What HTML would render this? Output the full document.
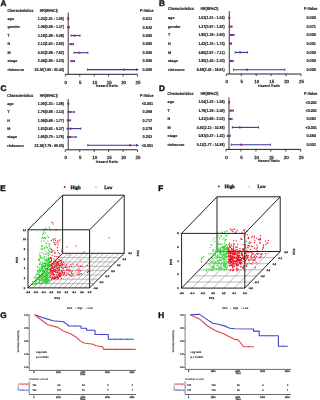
<!DOCTYPE html>
<html><head><meta charset="utf-8"><style>
html,body{margin:0;padding:0;background:#fff;width:318px;height:400px;overflow:hidden}
svg{display:block;font-family:"Liberation Sans", sans-serif;will-change:transform;text-rendering:geometricPrecision}
</style></head><body>
<svg width="318" height="400" viewBox="0 0 318 400">
<rect width="318" height="400" fill="#fff"/>
<text x="0.60" y="5.80" font-size="8.2" text-anchor="start" font-weight="bold" fill="#111"  stroke="#111" stroke-width="0.400">A</text>
<text x="7.50" y="11.60" font-size="4.3" text-anchor="start" font-weight="bold" fill="#111" textLength="26" lengthAdjust="spacingAndGlyphs"  stroke="#111" stroke-width="0.120">Characteristics</text>
<text x="39.80" y="11.60" font-size="4.3" text-anchor="start" font-weight="bold" fill="#111" textLength="18" lengthAdjust="spacingAndGlyphs"  stroke="#111" stroke-width="0.120">HR(95%CI)</text>
<text x="140.10" y="11.60" font-size="4.3" text-anchor="start" font-weight="bold" fill="#111" textLength="13.5" lengthAdjust="spacingAndGlyphs"  stroke="#111" stroke-width="0.120">P-Value</text>
<line x1="68.19" y1="12.50" x2="68.19" y2="74.30" stroke="#222" stroke-width="0.9"/>
<line x1="65.30" y1="74.30" x2="137.55" y2="74.30" stroke="#222" stroke-width="1.0"/>
<line x1="65.30" y1="74.30" x2="65.30" y2="76.50" stroke="#222" stroke-width="0.8"/>
<text x="65.80" y="83.70" font-size="4.4" text-anchor="middle" font-weight="normal" fill="#222"  stroke="#222" stroke-width="0.250">0</text>
<line x1="79.75" y1="74.30" x2="79.75" y2="76.50" stroke="#222" stroke-width="0.8"/>
<text x="80.25" y="83.70" font-size="4.4" text-anchor="middle" font-weight="normal" fill="#222"  stroke="#222" stroke-width="0.250">5</text>
<line x1="94.20" y1="74.30" x2="94.20" y2="76.50" stroke="#222" stroke-width="0.8"/>
<text x="94.70" y="83.70" font-size="4.4" text-anchor="middle" font-weight="normal" fill="#222"  stroke="#222" stroke-width="0.250">10</text>
<line x1="108.65" y1="74.30" x2="108.65" y2="76.50" stroke="#222" stroke-width="0.8"/>
<text x="109.15" y="83.70" font-size="4.4" text-anchor="middle" font-weight="normal" fill="#222"  stroke="#222" stroke-width="0.250">15</text>
<line x1="123.10" y1="74.30" x2="123.10" y2="76.50" stroke="#222" stroke-width="0.8"/>
<text x="123.60" y="83.70" font-size="4.4" text-anchor="middle" font-weight="normal" fill="#222"  stroke="#222" stroke-width="0.250">20</text>
<line x1="137.55" y1="74.30" x2="137.55" y2="76.50" stroke="#222" stroke-width="0.8"/>
<text x="138.05" y="83.70" font-size="4.4" text-anchor="middle" font-weight="normal" fill="#222"  stroke="#222" stroke-width="0.250">25</text>
<text x="106.83" y="87.10" font-size="3.6" text-anchor="middle" font-weight="bold" fill="#222" textLength="22" lengthAdjust="spacingAndGlyphs"  stroke="#222" stroke-width="0.100">Hazard Ratio</text>
<text x="7.50" y="19.80" font-size="3.75" text-anchor="start" font-weight="bold" fill="#111"  stroke="#111" stroke-width="0.120">age</text>
<text x="64.00" y="19.80" font-size="4.3" text-anchor="end" font-weight="bold" fill="#111" textLength="26.2" lengthAdjust="spacingAndGlyphs"  stroke="#111" stroke-width="0.120">1.03(1.01 - 1.05)</text>
<text x="147.40" y="19.90" font-size="4.3" text-anchor="middle" font-weight="bold" fill="#111" textLength="9.6" lengthAdjust="spacingAndGlyphs"  stroke="#111" stroke-width="0.120">0.011</text>
<line x1="68.22" y1="18.60" x2="68.33" y2="18.60" stroke="#3434a6" stroke-width="1.1"/>
<line x1="68.33" y1="17.50" x2="68.33" y2="19.70" stroke="#3434a6" stroke-width="0.9"/>
<line x1="68.22" y1="17.50" x2="68.22" y2="19.70" stroke="#3434a6" stroke-width="0.9"/>
<rect x="67.28" y="17.60" width="2" height="2" fill="#b0205a"/>
<text x="7.50" y="28.40" font-size="3.75" text-anchor="start" font-weight="bold" fill="#111"  stroke="#111" stroke-width="0.120">gender</text>
<text x="64.00" y="28.40" font-size="4.3" text-anchor="end" font-weight="bold" fill="#111" textLength="26.2" lengthAdjust="spacingAndGlyphs"  stroke="#111" stroke-width="0.120">1.09(0.86 - 1.37)</text>
<text x="147.40" y="28.50" font-size="4.3" text-anchor="middle" font-weight="bold" fill="#111" textLength="9.6" lengthAdjust="spacingAndGlyphs"  stroke="#111" stroke-width="0.120">0.832</text>
<line x1="67.79" y1="27.20" x2="69.26" y2="27.20" stroke="#3434a6" stroke-width="1.1"/>
<line x1="69.26" y1="26.10" x2="69.26" y2="28.30" stroke="#3434a6" stroke-width="0.9"/>
<line x1="67.79" y1="26.10" x2="67.79" y2="28.30" stroke="#3434a6" stroke-width="0.9"/>
<rect x="67.45" y="26.20" width="2" height="2" fill="#b0205a"/>
<text x="7.50" y="36.80" font-size="3.75" text-anchor="start" font-weight="bold" fill="#111"  stroke="#111" stroke-width="0.120">T</text>
<text x="64.00" y="36.80" font-size="4.3" text-anchor="end" font-weight="bold" fill="#111" textLength="26.2" lengthAdjust="spacingAndGlyphs"  stroke="#111" stroke-width="0.120">3.18(1.98 - 5.09)</text>
<text x="147.40" y="36.90" font-size="4.3" text-anchor="middle" font-weight="bold" fill="#111" textLength="9.6" lengthAdjust="spacingAndGlyphs"  stroke="#111" stroke-width="0.120">0.000</text>
<line x1="71.02" y1="35.60" x2="80.01" y2="35.60" stroke="#3434a6" stroke-width="1.1"/>
<line x1="80.01" y1="34.50" x2="80.01" y2="36.70" stroke="#3434a6" stroke-width="0.9"/>
<line x1="71.02" y1="34.50" x2="71.02" y2="36.70" stroke="#3434a6" stroke-width="0.9"/>
<rect x="73.49" y="34.60" width="2" height="2" fill="#b0205a"/>
<text x="7.50" y="45.30" font-size="3.75" text-anchor="start" font-weight="bold" fill="#111"  stroke="#111" stroke-width="0.120">N</text>
<text x="64.00" y="45.30" font-size="4.3" text-anchor="end" font-weight="bold" fill="#111" textLength="26.2" lengthAdjust="spacingAndGlyphs"  stroke="#111" stroke-width="0.120">2.13(1.63 - 2.80)</text>
<text x="147.40" y="45.40" font-size="4.3" text-anchor="middle" font-weight="bold" fill="#111" textLength="9.6" lengthAdjust="spacingAndGlyphs"  stroke="#111" stroke-width="0.120">0.000</text>
<line x1="70.01" y1="44.10" x2="73.39" y2="44.10" stroke="#3434a6" stroke-width="1.1"/>
<line x1="73.39" y1="43.00" x2="73.39" y2="45.20" stroke="#3434a6" stroke-width="0.9"/>
<line x1="70.01" y1="43.00" x2="70.01" y2="45.20" stroke="#3434a6" stroke-width="0.9"/>
<rect x="70.46" y="43.10" width="2" height="2" fill="#b0205a"/>
<text x="7.50" y="53.90" font-size="3.75" text-anchor="start" font-weight="bold" fill="#111"  stroke="#111" stroke-width="0.120">M</text>
<text x="64.00" y="53.90" font-size="4.3" text-anchor="end" font-weight="bold" fill="#111" textLength="26.2" lengthAdjust="spacingAndGlyphs"  stroke="#111" stroke-width="0.120">4.83(2.99 - 7.82)</text>
<text x="147.40" y="54.00" font-size="4.3" text-anchor="middle" font-weight="bold" fill="#111" textLength="9.6" lengthAdjust="spacingAndGlyphs"  stroke="#111" stroke-width="0.120">0.000</text>
<line x1="73.94" y1="52.70" x2="87.90" y2="52.70" stroke="#3434a6" stroke-width="1.1"/>
<line x1="87.90" y1="51.60" x2="87.90" y2="53.80" stroke="#3434a6" stroke-width="0.9"/>
<line x1="73.94" y1="51.60" x2="73.94" y2="53.80" stroke="#3434a6" stroke-width="0.9"/>
<rect x="78.26" y="51.70" width="2" height="2" fill="#b0205a"/>
<text x="7.50" y="62.30" font-size="3.75" text-anchor="start" font-weight="bold" fill="#111"  stroke="#111" stroke-width="0.120">stage</text>
<text x="64.00" y="62.30" font-size="4.3" text-anchor="end" font-weight="bold" fill="#111" textLength="26.2" lengthAdjust="spacingAndGlyphs"  stroke="#111" stroke-width="0.120">2.46(1.90 - 3.20)</text>
<text x="147.40" y="62.40" font-size="4.3" text-anchor="middle" font-weight="bold" fill="#111" textLength="9.6" lengthAdjust="spacingAndGlyphs"  stroke="#111" stroke-width="0.120">0.000</text>
<line x1="70.79" y1="61.10" x2="74.55" y2="61.10" stroke="#3434a6" stroke-width="1.1"/>
<line x1="74.55" y1="60.00" x2="74.55" y2="62.20" stroke="#3434a6" stroke-width="0.9"/>
<line x1="70.79" y1="60.00" x2="70.79" y2="62.20" stroke="#3434a6" stroke-width="0.9"/>
<rect x="71.41" y="60.10" width="2" height="2" fill="#b0205a"/>
<text x="7.50" y="70.80" font-size="3.75" text-anchor="start" font-weight="bold" fill="#111"  stroke="#111" stroke-width="0.120">riskscore</text>
<text x="64.00" y="70.80" font-size="4.3" text-anchor="end" font-weight="bold" fill="#111" textLength="29.4" lengthAdjust="spacingAndGlyphs"  stroke="#111" stroke-width="0.120">20.30(7.65 - 52.40)</text>
<text x="147.40" y="70.90" font-size="4.3" text-anchor="middle" font-weight="bold" fill="#111" textLength="9.6" lengthAdjust="spacingAndGlyphs"  stroke="#111" stroke-width="0.120">0.000</text>
<line x1="87.41" y1="69.60" x2="137.55" y2="69.60" stroke="#3434a6" stroke-width="1.1"/>
<path d="M139.05,69.60 L136.05,68.20 L136.05,71.00Z" fill="#3434a6"/>
<line x1="87.41" y1="68.50" x2="87.41" y2="70.70" stroke="#3434a6" stroke-width="0.9"/>
<rect x="122.97" y="68.60" width="2" height="2" fill="#b0205a"/>
<text x="159.00" y="5.80" font-size="8.2" text-anchor="start" font-weight="bold" fill="#111"  stroke="#111" stroke-width="0.400">B</text>
<text x="168.00" y="10.40" font-size="4.3" text-anchor="start" font-weight="bold" fill="#111" textLength="26" lengthAdjust="spacingAndGlyphs"  stroke="#111" stroke-width="0.120">Characteristics</text>
<text x="200.40" y="10.40" font-size="4.3" text-anchor="start" font-weight="bold" fill="#111" textLength="18" lengthAdjust="spacingAndGlyphs"  stroke="#111" stroke-width="0.120">HR(95%CI)</text>
<text x="303.90" y="10.40" font-size="4.3" text-anchor="start" font-weight="bold" fill="#111" textLength="13.5" lengthAdjust="spacingAndGlyphs"  stroke="#111" stroke-width="0.120">P-Value</text>
<line x1="229.29" y1="11.00" x2="229.29" y2="74.00" stroke="#222" stroke-width="0.9"/>
<line x1="226.30" y1="74.00" x2="301.05" y2="74.00" stroke="#222" stroke-width="1.0"/>
<line x1="226.30" y1="74.00" x2="226.30" y2="76.20" stroke="#222" stroke-width="0.8"/>
<text x="226.80" y="83.40" font-size="4.4" text-anchor="middle" font-weight="normal" fill="#222"  stroke="#222" stroke-width="0.250">0</text>
<line x1="241.25" y1="74.00" x2="241.25" y2="76.20" stroke="#222" stroke-width="0.8"/>
<text x="241.75" y="83.40" font-size="4.4" text-anchor="middle" font-weight="normal" fill="#222"  stroke="#222" stroke-width="0.250">5</text>
<line x1="256.20" y1="74.00" x2="256.20" y2="76.20" stroke="#222" stroke-width="0.8"/>
<text x="256.70" y="83.40" font-size="4.4" text-anchor="middle" font-weight="normal" fill="#222"  stroke="#222" stroke-width="0.250">10</text>
<line x1="271.15" y1="74.00" x2="271.15" y2="76.20" stroke="#222" stroke-width="0.8"/>
<text x="271.65" y="83.40" font-size="4.4" text-anchor="middle" font-weight="normal" fill="#222"  stroke="#222" stroke-width="0.250">15</text>
<line x1="286.10" y1="74.00" x2="286.10" y2="76.20" stroke="#222" stroke-width="0.8"/>
<text x="286.60" y="83.40" font-size="4.4" text-anchor="middle" font-weight="normal" fill="#222"  stroke="#222" stroke-width="0.250">20</text>
<line x1="301.05" y1="74.00" x2="301.05" y2="76.20" stroke="#222" stroke-width="0.8"/>
<text x="301.55" y="83.40" font-size="4.4" text-anchor="middle" font-weight="normal" fill="#222"  stroke="#222" stroke-width="0.250">25</text>
<text x="269.07" y="86.80" font-size="3.6" text-anchor="middle" font-weight="bold" fill="#222" textLength="22" lengthAdjust="spacingAndGlyphs"  stroke="#222" stroke-width="0.100">Hazard Ratio</text>
<text x="168.00" y="19.10" font-size="3.75" text-anchor="start" font-weight="bold" fill="#111"  stroke="#111" stroke-width="0.120">age</text>
<text x="224.60" y="19.10" font-size="4.3" text-anchor="end" font-weight="bold" fill="#111" textLength="26.2" lengthAdjust="spacingAndGlyphs"  stroke="#111" stroke-width="0.120">1.03(1.01 - 1.04)</text>
<text x="311.20" y="19.20" font-size="4.3" text-anchor="middle" font-weight="bold" fill="#111" textLength="9.6" lengthAdjust="spacingAndGlyphs"  stroke="#111" stroke-width="0.120">0.000</text>
<line x1="229.32" y1="17.90" x2="229.41" y2="17.90" stroke="#3434a6" stroke-width="1.1"/>
<line x1="229.41" y1="16.80" x2="229.41" y2="19.00" stroke="#3434a6" stroke-width="0.9"/>
<line x1="229.32" y1="16.80" x2="229.32" y2="19.00" stroke="#3434a6" stroke-width="0.9"/>
<rect x="228.38" y="16.90" width="2" height="2" fill="#b0205a"/>
<text x="168.00" y="27.80" font-size="3.75" text-anchor="start" font-weight="bold" fill="#111"  stroke="#111" stroke-width="0.120">gender</text>
<text x="224.60" y="27.80" font-size="4.3" text-anchor="end" font-weight="bold" fill="#111" textLength="26.2" lengthAdjust="spacingAndGlyphs"  stroke="#111" stroke-width="0.120">1.37(0.97 - 1.92)</text>
<text x="311.20" y="27.90" font-size="4.3" text-anchor="middle" font-weight="bold" fill="#111" textLength="9.6" lengthAdjust="spacingAndGlyphs"  stroke="#111" stroke-width="0.120">0.071</text>
<line x1="229.20" y1="26.60" x2="232.04" y2="26.60" stroke="#3434a6" stroke-width="1.1"/>
<line x1="232.04" y1="25.50" x2="232.04" y2="27.70" stroke="#3434a6" stroke-width="0.9"/>
<line x1="229.20" y1="25.50" x2="229.20" y2="27.70" stroke="#3434a6" stroke-width="0.9"/>
<rect x="229.40" y="25.60" width="2" height="2" fill="#b0205a"/>
<text x="168.00" y="36.20" font-size="3.75" text-anchor="start" font-weight="bold" fill="#111"  stroke="#111" stroke-width="0.120">T</text>
<text x="224.60" y="36.20" font-size="4.3" text-anchor="end" font-weight="bold" fill="#111" textLength="26.2" lengthAdjust="spacingAndGlyphs"  stroke="#111" stroke-width="0.120">1.90(1.39 - 2.60)</text>
<text x="311.20" y="36.30" font-size="4.3" text-anchor="middle" font-weight="bold" fill="#111" textLength="9.6" lengthAdjust="spacingAndGlyphs"  stroke="#111" stroke-width="0.120">0.000</text>
<line x1="230.46" y1="35.00" x2="234.07" y2="35.00" stroke="#3434a6" stroke-width="1.1"/>
<line x1="234.07" y1="33.90" x2="234.07" y2="36.10" stroke="#3434a6" stroke-width="0.9"/>
<line x1="230.46" y1="33.90" x2="230.46" y2="36.10" stroke="#3434a6" stroke-width="0.9"/>
<rect x="230.98" y="34.00" width="2" height="2" fill="#b0205a"/>
<text x="168.00" y="44.80" font-size="3.75" text-anchor="start" font-weight="bold" fill="#111"  stroke="#111" stroke-width="0.120">N</text>
<text x="224.60" y="44.80" font-size="4.3" text-anchor="end" font-weight="bold" fill="#111" textLength="26.2" lengthAdjust="spacingAndGlyphs"  stroke="#111" stroke-width="0.120">1.42(1.15 - 1.74)</text>
<text x="311.20" y="44.90" font-size="4.3" text-anchor="middle" font-weight="bold" fill="#111" textLength="9.6" lengthAdjust="spacingAndGlyphs"  stroke="#111" stroke-width="0.120">0.001</text>
<line x1="229.74" y1="43.60" x2="231.50" y2="43.60" stroke="#3434a6" stroke-width="1.1"/>
<line x1="231.50" y1="42.50" x2="231.50" y2="44.70" stroke="#3434a6" stroke-width="0.9"/>
<line x1="229.74" y1="42.50" x2="229.74" y2="44.70" stroke="#3434a6" stroke-width="0.9"/>
<rect x="229.55" y="42.60" width="2" height="2" fill="#b0205a"/>
<text x="168.00" y="53.60" font-size="3.75" text-anchor="start" font-weight="bold" fill="#111"  stroke="#111" stroke-width="0.120">M</text>
<text x="224.60" y="53.60" font-size="4.3" text-anchor="end" font-weight="bold" fill="#111" textLength="26.2" lengthAdjust="spacingAndGlyphs"  stroke="#111" stroke-width="0.120">4.60(2.97 - 7.11)</text>
<text x="311.20" y="53.70" font-size="4.3" text-anchor="middle" font-weight="bold" fill="#111" textLength="9.6" lengthAdjust="spacingAndGlyphs"  stroke="#111" stroke-width="0.120">0.000</text>
<line x1="235.18" y1="52.40" x2="247.56" y2="52.40" stroke="#3434a6" stroke-width="1.1"/>
<line x1="247.56" y1="51.30" x2="247.56" y2="53.50" stroke="#3434a6" stroke-width="0.9"/>
<line x1="235.18" y1="51.30" x2="235.18" y2="53.50" stroke="#3434a6" stroke-width="0.9"/>
<rect x="239.05" y="51.40" width="2" height="2" fill="#b0205a"/>
<text x="168.00" y="62.20" font-size="3.75" text-anchor="start" font-weight="bold" fill="#111"  stroke="#111" stroke-width="0.120">stage</text>
<text x="224.60" y="62.20" font-size="4.3" text-anchor="end" font-weight="bold" fill="#111" textLength="26.2" lengthAdjust="spacingAndGlyphs"  stroke="#111" stroke-width="0.120">1.80(1.40 - 2.30)</text>
<text x="311.20" y="62.30" font-size="4.3" text-anchor="middle" font-weight="bold" fill="#111" textLength="9.6" lengthAdjust="spacingAndGlyphs"  stroke="#111" stroke-width="0.120">0.000</text>
<line x1="230.49" y1="61.00" x2="233.18" y2="61.00" stroke="#3434a6" stroke-width="1.1"/>
<line x1="233.18" y1="59.90" x2="233.18" y2="62.10" stroke="#3434a6" stroke-width="0.9"/>
<line x1="230.49" y1="59.90" x2="230.49" y2="62.10" stroke="#3434a6" stroke-width="0.9"/>
<rect x="230.68" y="60.00" width="2" height="2" fill="#b0205a"/>
<text x="168.00" y="70.90" font-size="3.75" text-anchor="start" font-weight="bold" fill="#111"  stroke="#111" stroke-width="0.120">riskscore</text>
<text x="224.60" y="70.90" font-size="4.3" text-anchor="end" font-weight="bold" fill="#111" textLength="27.8" lengthAdjust="spacingAndGlyphs"  stroke="#111" stroke-width="0.120">6.89(2.42 - 19.61)</text>
<text x="311.20" y="71.00" font-size="4.3" text-anchor="middle" font-weight="bold" fill="#111" textLength="9.6" lengthAdjust="spacingAndGlyphs"  stroke="#111" stroke-width="0.120">0.000</text>
<line x1="233.54" y1="69.70" x2="284.93" y2="69.70" stroke="#3434a6" stroke-width="1.1"/>
<line x1="284.93" y1="68.60" x2="284.93" y2="70.80" stroke="#3434a6" stroke-width="0.9"/>
<line x1="233.54" y1="68.60" x2="233.54" y2="70.80" stroke="#3434a6" stroke-width="0.9"/>
<rect x="245.90" y="68.70" width="2" height="2" fill="#b0205a"/>
<text x="0.60" y="90.70" font-size="8.2" text-anchor="start" font-weight="bold" fill="#111"  stroke="#111" stroke-width="0.400">C</text>
<text x="7.20" y="97.00" font-size="4.3" text-anchor="start" font-weight="bold" fill="#111" textLength="26" lengthAdjust="spacingAndGlyphs"  stroke="#111" stroke-width="0.120">Characteristics</text>
<text x="39.80" y="97.00" font-size="4.3" text-anchor="start" font-weight="bold" fill="#111" textLength="18" lengthAdjust="spacingAndGlyphs"  stroke="#111" stroke-width="0.120">HR(95%CI)</text>
<text x="140.10" y="97.00" font-size="4.3" text-anchor="start" font-weight="bold" fill="#111" textLength="13.5" lengthAdjust="spacingAndGlyphs"  stroke="#111" stroke-width="0.120">P-Value</text>
<line x1="68.19" y1="99.00" x2="68.19" y2="149.80" stroke="#222" stroke-width="0.9"/>
<line x1="65.30" y1="149.80" x2="137.55" y2="149.80" stroke="#222" stroke-width="1.0"/>
<line x1="65.30" y1="149.80" x2="65.30" y2="152.00" stroke="#222" stroke-width="0.8"/>
<text x="65.80" y="159.20" font-size="4.4" text-anchor="middle" font-weight="normal" fill="#222"  stroke="#222" stroke-width="0.250">0</text>
<line x1="79.75" y1="149.80" x2="79.75" y2="152.00" stroke="#222" stroke-width="0.8"/>
<text x="80.25" y="159.20" font-size="4.4" text-anchor="middle" font-weight="normal" fill="#222"  stroke="#222" stroke-width="0.250">5</text>
<line x1="94.20" y1="149.80" x2="94.20" y2="152.00" stroke="#222" stroke-width="0.8"/>
<text x="94.70" y="159.20" font-size="4.4" text-anchor="middle" font-weight="normal" fill="#222"  stroke="#222" stroke-width="0.250">10</text>
<line x1="108.65" y1="149.80" x2="108.65" y2="152.00" stroke="#222" stroke-width="0.8"/>
<text x="109.15" y="159.20" font-size="4.4" text-anchor="middle" font-weight="normal" fill="#222"  stroke="#222" stroke-width="0.250">15</text>
<line x1="123.10" y1="149.80" x2="123.10" y2="152.00" stroke="#222" stroke-width="0.8"/>
<text x="123.60" y="159.20" font-size="4.4" text-anchor="middle" font-weight="normal" fill="#222"  stroke="#222" stroke-width="0.250">20</text>
<line x1="137.55" y1="149.80" x2="137.55" y2="152.00" stroke="#222" stroke-width="0.8"/>
<text x="138.05" y="159.20" font-size="4.4" text-anchor="middle" font-weight="normal" fill="#222"  stroke="#222" stroke-width="0.250">25</text>
<text x="106.83" y="162.60" font-size="3.6" text-anchor="middle" font-weight="bold" fill="#222" textLength="22" lengthAdjust="spacingAndGlyphs"  stroke="#222" stroke-width="0.100">Hazard Ratio</text>
<text x="7.20" y="104.90" font-size="3.75" text-anchor="start" font-weight="bold" fill="#111"  stroke="#111" stroke-width="0.120">age</text>
<text x="64.00" y="104.90" font-size="4.3" text-anchor="end" font-weight="bold" fill="#111" textLength="26.2" lengthAdjust="spacingAndGlyphs"  stroke="#111" stroke-width="0.120">1.05(1.03 - 1.08)</text>
<text x="147.40" y="105.00" font-size="4.3" text-anchor="middle" font-weight="bold" fill="#111" textLength="11.4" lengthAdjust="spacingAndGlyphs"  stroke="#111" stroke-width="0.120">&lt;0.001</text>
<line x1="68.28" y1="103.70" x2="68.42" y2="103.70" stroke="#3434a6" stroke-width="1.1"/>
<line x1="68.42" y1="102.60" x2="68.42" y2="104.80" stroke="#3434a6" stroke-width="0.9"/>
<line x1="68.28" y1="102.60" x2="68.28" y2="104.80" stroke="#3434a6" stroke-width="0.9"/>
<rect x="67.33" y="102.70" width="2" height="2" fill="#b0205a"/>
<text x="7.20" y="113.20" font-size="3.75" text-anchor="start" font-weight="bold" fill="#111"  stroke="#111" stroke-width="0.120">T</text>
<text x="64.00" y="113.20" font-size="4.3" text-anchor="end" font-weight="bold" fill="#111" textLength="26.2" lengthAdjust="spacingAndGlyphs"  stroke="#111" stroke-width="0.120">1.76(0.98 - 3.14)</text>
<text x="147.40" y="113.30" font-size="4.3" text-anchor="middle" font-weight="bold" fill="#111" textLength="9.6" lengthAdjust="spacingAndGlyphs"  stroke="#111" stroke-width="0.120">0.058</text>
<line x1="68.13" y1="112.00" x2="74.37" y2="112.00" stroke="#3434a6" stroke-width="1.1"/>
<line x1="74.37" y1="110.90" x2="74.37" y2="113.10" stroke="#3434a6" stroke-width="0.9"/>
<line x1="68.13" y1="110.90" x2="68.13" y2="113.10" stroke="#3434a6" stroke-width="0.9"/>
<rect x="69.39" y="111.00" width="2" height="2" fill="#b0205a"/>
<text x="7.20" y="121.50" font-size="3.75" text-anchor="start" font-weight="bold" fill="#111"  stroke="#111" stroke-width="0.120">N</text>
<text x="64.00" y="121.50" font-size="4.3" text-anchor="end" font-weight="bold" fill="#111" textLength="26.2" lengthAdjust="spacingAndGlyphs"  stroke="#111" stroke-width="0.120">1.09(0.68 - 1.77)</text>
<text x="147.40" y="121.60" font-size="4.3" text-anchor="middle" font-weight="bold" fill="#111" textLength="9.6" lengthAdjust="spacingAndGlyphs"  stroke="#111" stroke-width="0.120">0.717</text>
<line x1="67.27" y1="120.30" x2="70.42" y2="120.30" stroke="#3434a6" stroke-width="1.1"/>
<line x1="70.42" y1="119.20" x2="70.42" y2="121.40" stroke="#3434a6" stroke-width="0.9"/>
<line x1="67.27" y1="119.20" x2="67.27" y2="121.40" stroke="#3434a6" stroke-width="0.9"/>
<rect x="67.45" y="119.30" width="2" height="2" fill="#b0205a"/>
<text x="7.20" y="129.80" font-size="3.75" text-anchor="start" font-weight="bold" fill="#111"  stroke="#111" stroke-width="0.120">M</text>
<text x="64.00" y="129.80" font-size="4.3" text-anchor="end" font-weight="bold" fill="#111" textLength="26.2" lengthAdjust="spacingAndGlyphs"  stroke="#111" stroke-width="0.120">1.83(0.62 - 5.37)</text>
<text x="147.40" y="129.90" font-size="4.3" text-anchor="middle" font-weight="bold" fill="#111" textLength="9.6" lengthAdjust="spacingAndGlyphs"  stroke="#111" stroke-width="0.120">0.279</text>
<line x1="67.09" y1="128.60" x2="80.82" y2="128.60" stroke="#3434a6" stroke-width="1.1"/>
<line x1="80.82" y1="127.50" x2="80.82" y2="129.70" stroke="#3434a6" stroke-width="0.9"/>
<line x1="67.09" y1="127.50" x2="67.09" y2="129.70" stroke="#3434a6" stroke-width="0.9"/>
<rect x="69.59" y="127.60" width="2" height="2" fill="#b0205a"/>
<text x="7.20" y="138.20" font-size="3.75" text-anchor="start" font-weight="bold" fill="#111"  stroke="#111" stroke-width="0.120">stage</text>
<text x="64.00" y="138.20" font-size="4.3" text-anchor="end" font-weight="bold" fill="#111" textLength="26.2" lengthAdjust="spacingAndGlyphs"  stroke="#111" stroke-width="0.120">1.65(0.75 - 3.78)</text>
<text x="147.40" y="138.30" font-size="4.3" text-anchor="middle" font-weight="bold" fill="#111" textLength="9.6" lengthAdjust="spacingAndGlyphs"  stroke="#111" stroke-width="0.120">0.203</text>
<line x1="67.47" y1="137.00" x2="76.22" y2="137.00" stroke="#3434a6" stroke-width="1.1"/>
<line x1="76.22" y1="135.90" x2="76.22" y2="138.10" stroke="#3434a6" stroke-width="0.9"/>
<line x1="67.47" y1="135.90" x2="67.47" y2="138.10" stroke="#3434a6" stroke-width="0.9"/>
<rect x="69.07" y="136.00" width="2" height="2" fill="#b0205a"/>
<text x="7.20" y="146.50" font-size="3.75" text-anchor="start" font-weight="bold" fill="#111"  stroke="#111" stroke-width="0.120">riskscore</text>
<text x="64.00" y="146.50" font-size="4.3" text-anchor="end" font-weight="bold" fill="#111" textLength="29.4" lengthAdjust="spacingAndGlyphs"  stroke="#111" stroke-width="0.120">22.36(7.79 - 65.05)</text>
<text x="147.40" y="146.60" font-size="4.3" text-anchor="middle" font-weight="bold" fill="#111" textLength="11.4" lengthAdjust="spacingAndGlyphs"  stroke="#111" stroke-width="0.120">&lt;0.001</text>
<line x1="87.81" y1="145.30" x2="137.55" y2="145.30" stroke="#3434a6" stroke-width="1.1"/>
<path d="M139.05,145.30 L136.05,143.90 L136.05,146.70Z" fill="#3434a6"/>
<line x1="87.81" y1="144.20" x2="87.81" y2="146.40" stroke="#3434a6" stroke-width="0.9"/>
<rect x="128.92" y="144.30" width="2" height="2" fill="#b0205a"/>
<text x="159.00" y="90.70" font-size="8.2" text-anchor="start" font-weight="bold" fill="#111"  stroke="#111" stroke-width="0.400">D</text>
<text x="167.60" y="94.50" font-size="4.3" text-anchor="start" font-weight="bold" fill="#111" textLength="26" lengthAdjust="spacingAndGlyphs"  stroke="#111" stroke-width="0.120">Characteristics</text>
<text x="200.40" y="94.50" font-size="4.3" text-anchor="start" font-weight="bold" fill="#111" textLength="18" lengthAdjust="spacingAndGlyphs"  stroke="#111" stroke-width="0.120">HR(95%CI)</text>
<text x="303.90" y="94.50" font-size="4.3" text-anchor="start" font-weight="bold" fill="#111" textLength="13.5" lengthAdjust="spacingAndGlyphs"  stroke="#111" stroke-width="0.120">P-Value</text>
<line x1="228.99" y1="97.50" x2="228.99" y2="149.40" stroke="#222" stroke-width="0.9"/>
<line x1="226.00" y1="149.40" x2="300.75" y2="149.40" stroke="#222" stroke-width="1.0"/>
<line x1="226.00" y1="149.40" x2="226.00" y2="151.60" stroke="#222" stroke-width="0.8"/>
<text x="226.50" y="158.80" font-size="4.4" text-anchor="middle" font-weight="normal" fill="#222"  stroke="#222" stroke-width="0.250">0</text>
<line x1="240.95" y1="149.40" x2="240.95" y2="151.60" stroke="#222" stroke-width="0.8"/>
<text x="241.45" y="158.80" font-size="4.4" text-anchor="middle" font-weight="normal" fill="#222"  stroke="#222" stroke-width="0.250">5</text>
<line x1="255.90" y1="149.40" x2="255.90" y2="151.60" stroke="#222" stroke-width="0.8"/>
<text x="256.40" y="158.80" font-size="4.4" text-anchor="middle" font-weight="normal" fill="#222"  stroke="#222" stroke-width="0.250">10</text>
<line x1="270.85" y1="149.40" x2="270.85" y2="151.60" stroke="#222" stroke-width="0.8"/>
<text x="271.35" y="158.80" font-size="4.4" text-anchor="middle" font-weight="normal" fill="#222"  stroke="#222" stroke-width="0.250">15</text>
<line x1="285.80" y1="149.40" x2="285.80" y2="151.60" stroke="#222" stroke-width="0.8"/>
<text x="286.30" y="158.80" font-size="4.4" text-anchor="middle" font-weight="normal" fill="#222"  stroke="#222" stroke-width="0.250">20</text>
<line x1="300.75" y1="149.40" x2="300.75" y2="151.60" stroke="#222" stroke-width="0.8"/>
<text x="301.25" y="158.80" font-size="4.4" text-anchor="middle" font-weight="normal" fill="#222"  stroke="#222" stroke-width="0.250">25</text>
<text x="268.77" y="162.20" font-size="3.6" text-anchor="middle" font-weight="bold" fill="#222" textLength="22" lengthAdjust="spacingAndGlyphs"  stroke="#222" stroke-width="0.100">Hazard Ratio</text>
<text x="167.60" y="103.40" font-size="3.75" text-anchor="start" font-weight="bold" fill="#111"  stroke="#111" stroke-width="0.120">age</text>
<text x="224.60" y="103.40" font-size="4.3" text-anchor="end" font-weight="bold" fill="#111" textLength="26.2" lengthAdjust="spacingAndGlyphs"  stroke="#111" stroke-width="0.120">1.04(1.02 - 1.06)</text>
<text x="311.20" y="103.50" font-size="4.3" text-anchor="middle" font-weight="bold" fill="#111" textLength="11.4" lengthAdjust="spacingAndGlyphs"  stroke="#111" stroke-width="0.120">&lt;0.001</text>
<line x1="229.05" y1="102.20" x2="229.17" y2="102.20" stroke="#3434a6" stroke-width="1.1"/>
<line x1="229.17" y1="101.10" x2="229.17" y2="103.30" stroke="#3434a6" stroke-width="0.9"/>
<line x1="229.05" y1="101.10" x2="229.05" y2="103.30" stroke="#3434a6" stroke-width="0.9"/>
<rect x="228.11" y="101.20" width="2" height="2" fill="#b0205a"/>
<text x="167.60" y="111.80" font-size="3.75" text-anchor="start" font-weight="bold" fill="#111"  stroke="#111" stroke-width="0.120">T</text>
<text x="224.60" y="111.80" font-size="4.3" text-anchor="end" font-weight="bold" fill="#111" textLength="26.2" lengthAdjust="spacingAndGlyphs"  stroke="#111" stroke-width="0.120">1.76(1.26 - 2.46)</text>
<text x="311.20" y="111.90" font-size="4.3" text-anchor="middle" font-weight="bold" fill="#111" textLength="11.4" lengthAdjust="spacingAndGlyphs"  stroke="#111" stroke-width="0.120">&lt;0.001</text>
<line x1="229.77" y1="110.60" x2="233.36" y2="110.60" stroke="#3434a6" stroke-width="1.1"/>
<line x1="233.36" y1="109.50" x2="233.36" y2="111.70" stroke="#3434a6" stroke-width="0.9"/>
<line x1="229.77" y1="109.50" x2="229.77" y2="111.70" stroke="#3434a6" stroke-width="0.9"/>
<rect x="230.26" y="109.60" width="2" height="2" fill="#b0205a"/>
<text x="167.60" y="120.20" font-size="3.75" text-anchor="start" font-weight="bold" fill="#111"  stroke="#111" stroke-width="0.120">N</text>
<text x="224.60" y="120.20" font-size="4.3" text-anchor="end" font-weight="bold" fill="#111" textLength="26.2" lengthAdjust="spacingAndGlyphs"  stroke="#111" stroke-width="0.120">1.41(0.98 - 2.03)</text>
<text x="311.20" y="120.30" font-size="4.3" text-anchor="middle" font-weight="bold" fill="#111" textLength="9.6" lengthAdjust="spacingAndGlyphs"  stroke="#111" stroke-width="0.120">0.063</text>
<line x1="228.93" y1="119.00" x2="232.07" y2="119.00" stroke="#3434a6" stroke-width="1.1"/>
<line x1="232.07" y1="117.90" x2="232.07" y2="120.10" stroke="#3434a6" stroke-width="0.9"/>
<line x1="228.93" y1="117.90" x2="228.93" y2="120.10" stroke="#3434a6" stroke-width="0.9"/>
<rect x="229.22" y="118.00" width="2" height="2" fill="#b0205a"/>
<text x="167.60" y="128.60" font-size="3.75" text-anchor="start" font-weight="bold" fill="#111"  stroke="#111" stroke-width="0.120">M</text>
<text x="224.60" y="128.60" font-size="4.3" text-anchor="end" font-weight="bold" fill="#111" textLength="27.8" lengthAdjust="spacingAndGlyphs"  stroke="#111" stroke-width="0.120">4.61(2.13 - 10.88)</text>
<text x="311.20" y="128.70" font-size="4.3" text-anchor="middle" font-weight="bold" fill="#111" textLength="11.4" lengthAdjust="spacingAndGlyphs"  stroke="#111" stroke-width="0.120">&lt;0.001</text>
<line x1="232.37" y1="127.40" x2="258.53" y2="127.40" stroke="#3434a6" stroke-width="1.1"/>
<line x1="258.53" y1="126.30" x2="258.53" y2="128.50" stroke="#3434a6" stroke-width="0.9"/>
<line x1="232.37" y1="126.30" x2="232.37" y2="128.50" stroke="#3434a6" stroke-width="0.9"/>
<rect x="238.78" y="126.40" width="2" height="2" fill="#b0205a"/>
<text x="167.60" y="137.10" font-size="3.75" text-anchor="start" font-weight="bold" fill="#111"  stroke="#111" stroke-width="0.120">stage</text>
<text x="224.60" y="137.10" font-size="4.3" text-anchor="end" font-weight="bold" fill="#111" textLength="26.2" lengthAdjust="spacingAndGlyphs"  stroke="#111" stroke-width="0.120">0.81(0.47 - 1.42)</text>
<text x="311.20" y="137.20" font-size="4.3" text-anchor="middle" font-weight="bold" fill="#111" textLength="9.6" lengthAdjust="spacingAndGlyphs"  stroke="#111" stroke-width="0.120">0.464</text>
<line x1="227.41" y1="135.90" x2="230.25" y2="135.90" stroke="#3434a6" stroke-width="1.1"/>
<line x1="230.25" y1="134.80" x2="230.25" y2="137.00" stroke="#3434a6" stroke-width="0.9"/>
<line x1="227.41" y1="134.80" x2="227.41" y2="137.00" stroke="#3434a6" stroke-width="0.9"/>
<rect x="227.42" y="134.90" width="2" height="2" fill="#b0205a"/>
<text x="167.60" y="145.90" font-size="3.75" text-anchor="start" font-weight="bold" fill="#111"  stroke="#111" stroke-width="0.120">riskscore</text>
<text x="224.60" y="145.90" font-size="4.3" text-anchor="end" font-weight="bold" fill="#111" textLength="27.8" lengthAdjust="spacingAndGlyphs"  stroke="#111" stroke-width="0.120">5.12(1.77 - 14.88)</text>
<text x="311.20" y="146.00" font-size="4.3" text-anchor="middle" font-weight="bold" fill="#111" textLength="9.6" lengthAdjust="spacingAndGlyphs"  stroke="#111" stroke-width="0.120">0.003</text>
<line x1="231.29" y1="144.70" x2="270.49" y2="144.70" stroke="#3434a6" stroke-width="1.1"/>
<line x1="270.49" y1="143.60" x2="270.49" y2="145.80" stroke="#3434a6" stroke-width="0.9"/>
<line x1="231.29" y1="143.60" x2="231.29" y2="145.80" stroke="#3434a6" stroke-width="0.9"/>
<rect x="240.31" y="143.70" width="2" height="2" fill="#b0205a"/>
<text x="0.30" y="190.80" font-size="8.2" text-anchor="start" font-weight="bold" fill="#111"  stroke="#111" stroke-width="0.400">E</text>
<line x1="33.13" y1="287.90" x2="67.73" y2="253.30" stroke="#8c8c8c" stroke-width="0.6"/>
<line x1="38.27" y1="287.90" x2="72.87" y2="253.30" stroke="#8c8c8c" stroke-width="0.6"/>
<line x1="43.40" y1="287.90" x2="78.00" y2="253.30" stroke="#8c8c8c" stroke-width="0.6"/>
<line x1="48.53" y1="287.90" x2="83.13" y2="253.30" stroke="#8c8c8c" stroke-width="0.6"/>
<line x1="53.67" y1="287.90" x2="88.27" y2="253.30" stroke="#8c8c8c" stroke-width="0.6"/>
<line x1="58.80" y1="287.90" x2="93.40" y2="253.30" stroke="#8c8c8c" stroke-width="0.6"/>
<line x1="63.93" y1="287.90" x2="98.53" y2="253.30" stroke="#8c8c8c" stroke-width="0.6"/>
<line x1="69.07" y1="287.90" x2="103.67" y2="253.30" stroke="#8c8c8c" stroke-width="0.6"/>
<line x1="74.20" y1="287.90" x2="108.80" y2="253.30" stroke="#8c8c8c" stroke-width="0.6"/>
<line x1="79.33" y1="287.90" x2="113.93" y2="253.30" stroke="#8c8c8c" stroke-width="0.6"/>
<line x1="84.47" y1="287.90" x2="119.07" y2="253.30" stroke="#8c8c8c" stroke-width="0.6"/>
<line x1="32.33" y1="283.58" x2="93.92" y2="283.58" stroke="#8c8c8c" stroke-width="0.6"/>
<line x1="36.65" y1="279.25" x2="98.25" y2="279.25" stroke="#8c8c8c" stroke-width="0.6"/>
<line x1="40.98" y1="274.93" x2="102.57" y2="274.93" stroke="#8c8c8c" stroke-width="0.6"/>
<line x1="45.30" y1="270.60" x2="106.90" y2="270.60" stroke="#8c8c8c" stroke-width="0.6"/>
<line x1="49.62" y1="266.28" x2="111.22" y2="266.28" stroke="#8c8c8c" stroke-width="0.6"/>
<line x1="53.95" y1="261.95" x2="115.55" y2="261.95" stroke="#8c8c8c" stroke-width="0.6"/>
<line x1="58.28" y1="257.63" x2="119.88" y2="257.63" stroke="#8c8c8c" stroke-width="0.6"/>
<path d="M62.60,195.20 H124.20 V253.30 H62.60 Z" fill="none" stroke="#151515" stroke-width="0.95"/>
<line x1="89.60" y1="287.90" x2="124.20" y2="253.30" stroke="#151515" stroke-width="0.95"/>
<line x1="28.00" y1="287.90" x2="62.60" y2="253.30" stroke="#151515" stroke-width="0.95"/>
<g fill="#2ad42a"><rect x="46.1" y="278.6" width="1.1" height="1.1"/><rect x="40.2" y="269.9" width="1.1" height="1.1"/><rect x="46.2" y="259.9" width="1.1" height="1.1"/><rect x="47.2" y="270.2" width="1.1" height="1.1"/><rect x="42.6" y="277.0" width="1.1" height="1.1"/><rect x="37.3" y="272.8" width="1.1" height="1.1"/><rect x="49.0" y="272.6" width="1.1" height="1.1"/><rect x="42.6" y="275.1" width="1.1" height="1.1"/><rect x="48.8" y="261.7" width="1.1" height="1.1"/><rect x="47.6" y="272.0" width="1.1" height="1.1"/><rect x="41.3" y="266.4" width="1.1" height="1.1"/><rect x="47.1" y="269.0" width="1.1" height="1.1"/><rect x="36.6" y="277.2" width="1.1" height="1.1"/><rect x="38.4" y="279.1" width="1.1" height="1.1"/><rect x="42.4" y="278.4" width="1.1" height="1.1"/><rect x="44.2" y="262.0" width="1.1" height="1.1"/><rect x="44.6" y="272.3" width="1.1" height="1.1"/><rect x="40.3" y="283.0" width="1.1" height="1.1"/><rect x="45.8" y="275.1" width="1.1" height="1.1"/><rect x="42.4" y="273.9" width="1.1" height="1.1"/><rect x="45.0" y="279.1" width="1.1" height="1.1"/><rect x="45.9" y="274.5" width="1.1" height="1.1"/><rect x="48.7" y="280.2" width="1.1" height="1.1"/><rect x="45.0" y="281.0" width="1.1" height="1.1"/><rect x="47.4" y="260.1" width="1.1" height="1.1"/><rect x="41.2" y="282.8" width="1.1" height="1.1"/><rect x="43.0" y="279.5" width="1.1" height="1.1"/><rect x="37.5" y="271.1" width="1.1" height="1.1"/><rect x="44.8" y="272.2" width="1.1" height="1.1"/><rect x="47.7" y="263.3" width="1.1" height="1.1"/><rect x="46.3" y="273.4" width="1.1" height="1.1"/><rect x="38.7" y="281.1" width="1.1" height="1.1"/><rect x="43.3" y="266.2" width="1.1" height="1.1"/><rect x="40.3" y="277.4" width="1.1" height="1.1"/><rect x="44.7" y="281.5" width="1.1" height="1.1"/><rect x="48.3" y="279.9" width="1.1" height="1.1"/><rect x="38.0" y="274.0" width="1.1" height="1.1"/><rect x="44.9" y="277.4" width="1.1" height="1.1"/><rect x="46.5" y="271.2" width="1.1" height="1.1"/><rect x="40.9" y="276.4" width="1.1" height="1.1"/><rect x="46.2" y="282.1" width="1.1" height="1.1"/><rect x="49.3" y="259.7" width="1.1" height="1.1"/><rect x="46.1" y="282.1" width="1.1" height="1.1"/><rect x="32.2" y="284.1" width="1.1" height="1.1"/><rect x="38.9" y="277.2" width="1.1" height="1.1"/><rect x="47.8" y="261.7" width="1.1" height="1.1"/><rect x="47.9" y="262.6" width="1.1" height="1.1"/><rect x="46.8" y="269.5" width="1.1" height="1.1"/><rect x="43.2" y="263.2" width="1.1" height="1.1"/><rect x="42.4" y="271.0" width="1.1" height="1.1"/><rect x="45.5" y="280.8" width="1.1" height="1.1"/><rect x="34.8" y="283.6" width="1.1" height="1.1"/><rect x="47.2" y="277.5" width="1.1" height="1.1"/><rect x="43.4" y="276.8" width="1.1" height="1.1"/><rect x="33.6" y="277.4" width="1.1" height="1.1"/><rect x="47.9" y="272.8" width="1.1" height="1.1"/><rect x="48.2" y="259.9" width="1.1" height="1.1"/><rect x="45.7" y="263.6" width="1.1" height="1.1"/><rect x="43.6" y="279.7" width="1.1" height="1.1"/><rect x="40.9" y="277.8" width="1.1" height="1.1"/><rect x="48.7" y="269.0" width="1.1" height="1.1"/><rect x="41.1" y="282.5" width="1.1" height="1.1"/><rect x="47.1" y="261.2" width="1.1" height="1.1"/><rect x="44.7" y="276.0" width="1.1" height="1.1"/><rect x="45.8" y="269.0" width="1.1" height="1.1"/><rect x="46.0" y="275.1" width="1.1" height="1.1"/><rect x="38.2" y="271.6" width="1.1" height="1.1"/><rect x="44.6" y="266.5" width="1.1" height="1.1"/><rect x="44.8" y="270.1" width="1.1" height="1.1"/><rect x="45.4" y="268.4" width="1.1" height="1.1"/><rect x="46.8" y="272.3" width="1.1" height="1.1"/><rect x="43.1" y="275.1" width="1.1" height="1.1"/><rect x="47.3" y="266.4" width="1.1" height="1.1"/><rect x="47.3" y="269.8" width="1.1" height="1.1"/><rect x="46.2" y="279.4" width="1.1" height="1.1"/><rect x="45.0" y="268.7" width="1.1" height="1.1"/><rect x="46.0" y="268.4" width="1.1" height="1.1"/><rect x="43.4" y="262.6" width="1.1" height="1.1"/><rect x="37.6" y="273.9" width="1.1" height="1.1"/><rect x="34.3" y="283.3" width="1.1" height="1.1"/><rect x="45.1" y="276.0" width="1.1" height="1.1"/><rect x="44.7" y="265.4" width="1.1" height="1.1"/><rect x="38.8" y="269.6" width="1.1" height="1.1"/><rect x="38.8" y="274.0" width="1.1" height="1.1"/><rect x="35.8" y="283.3" width="1.1" height="1.1"/><rect x="35.6" y="278.4" width="1.1" height="1.1"/><rect x="42.2" y="267.2" width="1.1" height="1.1"/><rect x="47.4" y="274.8" width="1.1" height="1.1"/><rect x="36.8" y="270.3" width="1.1" height="1.1"/><rect x="44.2" y="275.6" width="1.1" height="1.1"/><rect x="46.6" y="277.4" width="1.1" height="1.1"/><rect x="39.0" y="282.4" width="1.1" height="1.1"/><rect x="47.5" y="275.2" width="1.1" height="1.1"/><rect x="45.4" y="262.6" width="1.1" height="1.1"/><rect x="45.6" y="275.4" width="1.1" height="1.1"/><rect x="35.5" y="282.7" width="1.1" height="1.1"/><rect x="40.9" y="280.0" width="1.1" height="1.1"/><rect x="46.8" y="263.9" width="1.1" height="1.1"/><rect x="42.5" y="276.9" width="1.1" height="1.1"/><rect x="44.2" y="275.7" width="1.1" height="1.1"/><rect x="34.3" y="276.6" width="1.1" height="1.1"/><rect x="39.4" y="280.4" width="1.1" height="1.1"/><rect x="37.5" y="277.5" width="1.1" height="1.1"/><rect x="39.1" y="283.5" width="1.1" height="1.1"/><rect x="41.2" y="283.1" width="1.1" height="1.1"/><rect x="42.7" y="264.8" width="1.1" height="1.1"/><rect x="41.5" y="269.7" width="1.1" height="1.1"/><rect x="42.2" y="279.1" width="1.1" height="1.1"/><rect x="40.8" y="276.7" width="1.1" height="1.1"/><rect x="40.7" y="275.4" width="1.1" height="1.1"/><rect x="48.0" y="258.4" width="1.1" height="1.1"/><rect x="48.0" y="257.5" width="1.1" height="1.1"/><rect x="45.8" y="264.5" width="1.1" height="1.1"/><rect x="43.0" y="270.2" width="1.1" height="1.1"/><rect x="37.2" y="272.5" width="1.1" height="1.1"/><rect x="44.8" y="262.9" width="1.1" height="1.1"/><rect x="47.9" y="264.5" width="1.1" height="1.1"/><rect x="48.9" y="275.6" width="1.1" height="1.1"/><rect x="47.7" y="258.4" width="1.1" height="1.1"/><rect x="36.7" y="282.7" width="1.1" height="1.1"/><rect x="47.9" y="273.2" width="1.1" height="1.1"/><rect x="41.3" y="268.8" width="1.1" height="1.1"/><rect x="37.5" y="282.7" width="1.1" height="1.1"/><rect x="44.9" y="266.3" width="1.1" height="1.1"/><rect x="44.8" y="264.0" width="1.1" height="1.1"/><rect x="32.0" y="283.6" width="1.1" height="1.1"/><rect x="49.3" y="263.8" width="1.1" height="1.1"/><rect x="41.9" y="275.8" width="1.1" height="1.1"/><rect x="47.6" y="265.2" width="1.1" height="1.1"/><rect x="43.3" y="271.3" width="1.1" height="1.1"/><rect x="42.6" y="270.5" width="1.1" height="1.1"/><rect x="45.9" y="278.3" width="1.1" height="1.1"/><rect x="47.0" y="281.5" width="1.1" height="1.1"/><rect x="49.3" y="272.2" width="1.1" height="1.1"/><rect x="40.2" y="270.1" width="1.1" height="1.1"/><rect x="44.3" y="272.2" width="1.1" height="1.1"/><rect x="38.6" y="274.6" width="1.1" height="1.1"/><rect x="40.7" y="266.5" width="1.1" height="1.1"/><rect x="36.1" y="274.5" width="1.1" height="1.1"/><rect x="36.0" y="278.7" width="1.1" height="1.1"/><rect x="44.1" y="265.1" width="1.1" height="1.1"/><rect x="45.8" y="271.2" width="1.1" height="1.1"/><rect x="35.4" y="273.5" width="1.1" height="1.1"/><rect x="49.1" y="281.2" width="1.1" height="1.1"/><rect x="33.8" y="283.6" width="1.1" height="1.1"/><rect x="47.0" y="280.9" width="1.1" height="1.1"/><rect x="45.7" y="282.2" width="1.1" height="1.1"/><rect x="41.5" y="267.7" width="1.1" height="1.1"/><rect x="39.3" y="281.7" width="1.1" height="1.1"/><rect x="41.7" y="264.7" width="1.1" height="1.1"/><rect x="45.9" y="278.8" width="1.1" height="1.1"/><rect x="37.9" y="270.3" width="1.1" height="1.1"/><rect x="44.1" y="267.7" width="1.1" height="1.1"/><rect x="45.3" y="260.5" width="1.1" height="1.1"/><rect x="39.4" y="268.9" width="1.1" height="1.1"/><rect x="47.9" y="264.6" width="1.1" height="1.1"/><rect x="48.2" y="265.0" width="1.1" height="1.1"/><rect x="48.7" y="258.9" width="1.1" height="1.1"/><rect x="35.9" y="281.4" width="1.1" height="1.1"/><rect x="49.1" y="268.8" width="1.1" height="1.1"/><rect x="47.3" y="278.3" width="1.1" height="1.1"/><rect x="46.0" y="271.4" width="1.1" height="1.1"/><rect x="44.9" y="274.4" width="1.1" height="1.1"/><rect x="47.2" y="272.8" width="1.1" height="1.1"/><rect x="39.4" y="279.1" width="1.1" height="1.1"/><rect x="48.8" y="263.6" width="1.1" height="1.1"/><rect x="42.0" y="270.2" width="1.1" height="1.1"/><rect x="48.8" y="280.9" width="1.1" height="1.1"/><rect x="47.8" y="267.0" width="1.1" height="1.1"/><rect x="48.1" y="257.9" width="1.1" height="1.1"/><rect x="48.2" y="262.9" width="1.1" height="1.1"/><rect x="47.8" y="266.0" width="1.1" height="1.1"/><rect x="32.9" y="282.0" width="1.1" height="1.1"/><rect x="34.9" y="281.5" width="1.1" height="1.1"/><rect x="48.3" y="260.4" width="1.1" height="1.1"/><rect x="44.4" y="265.5" width="1.1" height="1.1"/><rect x="39.3" y="267.4" width="1.1" height="1.1"/><rect x="46.4" y="280.0" width="1.1" height="1.1"/><rect x="42.2" y="281.6" width="1.1" height="1.1"/><rect x="43.1" y="278.5" width="1.1" height="1.1"/><rect x="47.0" y="264.9" width="1.1" height="1.1"/><rect x="45.8" y="274.8" width="1.1" height="1.1"/><rect x="43.0" y="272.2" width="1.1" height="1.1"/><rect x="45.1" y="263.0" width="1.1" height="1.1"/><rect x="42.6" y="275.1" width="1.1" height="1.1"/><rect x="43.3" y="265.5" width="1.1" height="1.1"/><rect x="39.2" y="271.8" width="1.1" height="1.1"/><rect x="42.9" y="281.4" width="1.1" height="1.1"/><rect x="32.9" y="281.3" width="1.1" height="1.1"/><rect x="37.3" y="269.8" width="1.1" height="1.1"/><rect x="37.3" y="278.4" width="1.1" height="1.1"/><rect x="41.5" y="268.0" width="1.1" height="1.1"/><rect x="46.1" y="277.1" width="1.1" height="1.1"/><rect x="44.5" y="274.1" width="1.1" height="1.1"/><rect x="38.9" y="278.6" width="1.1" height="1.1"/><rect x="43.0" y="275.0" width="1.1" height="1.1"/><rect x="48.4" y="279.8" width="1.1" height="1.1"/><rect x="46.6" y="275.2" width="1.1" height="1.1"/><rect x="49.1" y="261.8" width="1.1" height="1.1"/><rect x="48.5" y="257.9" width="1.1" height="1.1"/><rect x="46.9" y="270.2" width="1.1" height="1.1"/><rect x="49.2" y="265.2" width="1.1" height="1.1"/><rect x="46.7" y="274.2" width="1.1" height="1.1"/><rect x="49.3" y="276.4" width="1.1" height="1.1"/><rect x="42.8" y="268.8" width="1.1" height="1.1"/><rect x="39.7" y="271.0" width="1.1" height="1.1"/><rect x="46.7" y="275.7" width="1.1" height="1.1"/><rect x="41.8" y="265.6" width="1.1" height="1.1"/><rect x="42.5" y="280.5" width="1.1" height="1.1"/><rect x="49.3" y="257.5" width="1.1" height="1.1"/><rect x="45.6" y="274.6" width="1.1" height="1.1"/><rect x="48.8" y="269.0" width="1.1" height="1.1"/><rect x="37.3" y="279.1" width="1.1" height="1.1"/><rect x="40.6" y="268.2" width="1.1" height="1.1"/><rect x="46.8" y="279.3" width="1.1" height="1.1"/><rect x="45.6" y="280.5" width="1.1" height="1.1"/><rect x="46.5" y="268.8" width="1.1" height="1.1"/><rect x="45.0" y="279.6" width="1.1" height="1.1"/><rect x="48.8" y="276.6" width="1.1" height="1.1"/><rect x="42.4" y="271.7" width="1.1" height="1.1"/><rect x="47.1" y="277.5" width="1.1" height="1.1"/><rect x="46.6" y="279.0" width="1.1" height="1.1"/><rect x="43.7" y="262.8" width="1.1" height="1.1"/><rect x="44.7" y="277.9" width="1.1" height="1.1"/><rect x="42.6" y="279.8" width="1.1" height="1.1"/><rect x="48.4" y="272.2" width="1.1" height="1.1"/><rect x="49.0" y="264.0" width="1.1" height="1.1"/><rect x="47.6" y="282.6" width="1.1" height="1.1"/><rect x="45.3" y="277.5" width="1.1" height="1.1"/><rect x="40.2" y="275.8" width="1.1" height="1.1"/><rect x="39.0" y="279.8" width="1.1" height="1.1"/><rect x="49.3" y="262.0" width="1.1" height="1.1"/><rect x="38.4" y="274.3" width="1.1" height="1.1"/><rect x="46.4" y="261.1" width="1.1" height="1.1"/><rect x="33.5" y="281.0" width="1.1" height="1.1"/><rect x="44.3" y="279.8" width="1.1" height="1.1"/><rect x="39.2" y="269.9" width="1.1" height="1.1"/><rect x="48.9" y="280.2" width="1.1" height="1.1"/><rect x="39.0" y="267.5" width="1.1" height="1.1"/><rect x="48.5" y="257.4" width="1.1" height="1.1"/><rect x="43.0" y="272.5" width="1.1" height="1.1"/><rect x="48.3" y="267.3" width="1.1" height="1.1"/><rect x="32.2" y="281.3" width="1.1" height="1.1"/><rect x="47.6" y="279.5" width="1.1" height="1.1"/><rect x="31.7" y="283.3" width="1.1" height="1.1"/><rect x="48.4" y="265.5" width="1.1" height="1.1"/><rect x="46.9" y="274.7" width="1.1" height="1.1"/><rect x="47.9" y="265.4" width="1.1" height="1.1"/><rect x="49.2" y="261.8" width="1.1" height="1.1"/><rect x="36.1" y="279.3" width="1.1" height="1.1"/><rect x="48.1" y="279.7" width="1.1" height="1.1"/><rect x="48.8" y="265.4" width="1.1" height="1.1"/><rect x="48.4" y="264.1" width="1.1" height="1.1"/><rect x="46.3" y="281.4" width="1.1" height="1.1"/><rect x="46.3" y="265.8" width="1.1" height="1.1"/><rect x="44.0" y="279.4" width="1.1" height="1.1"/><rect x="43.6" y="281.8" width="1.1" height="1.1"/><rect x="45.4" y="280.8" width="1.1" height="1.1"/><rect x="45.0" y="267.8" width="1.1" height="1.1"/><rect x="44.8" y="269.1" width="1.1" height="1.1"/><rect x="48.7" y="269.9" width="1.1" height="1.1"/><rect x="44.9" y="279.1" width="1.1" height="1.1"/><rect x="47.9" y="258.0" width="1.1" height="1.1"/><rect x="44.6" y="282.0" width="1.1" height="1.1"/><rect x="41.9" y="266.7" width="1.1" height="1.1"/><rect x="44.5" y="282.2" width="1.1" height="1.1"/><rect x="45.1" y="268.9" width="1.1" height="1.1"/><rect x="46.6" y="263.3" width="1.1" height="1.1"/><rect x="47.2" y="262.7" width="1.1" height="1.1"/><rect x="45.0" y="264.3" width="1.1" height="1.1"/><rect x="44.8" y="277.0" width="1.1" height="1.1"/><rect x="47.0" y="270.0" width="1.1" height="1.1"/><rect x="38.9" y="278.6" width="1.1" height="1.1"/><rect x="36.4" y="279.6" width="1.1" height="1.1"/><rect x="35.3" y="282.9" width="1.1" height="1.1"/><rect x="45.2" y="266.6" width="1.1" height="1.1"/><rect x="46.6" y="259.0" width="1.1" height="1.1"/><rect x="48.4" y="276.6" width="1.1" height="1.1"/><rect x="42.3" y="275.0" width="1.1" height="1.1"/><rect x="41.9" y="265.8" width="1.1" height="1.1"/><rect x="35.4" y="277.6" width="1.1" height="1.1"/><rect x="41.1" y="265.9" width="1.1" height="1.1"/><rect x="45.4" y="274.8" width="1.1" height="1.1"/><rect x="45.0" y="270.0" width="1.1" height="1.1"/><rect x="44.4" y="273.0" width="1.1" height="1.1"/><rect x="42.8" y="277.0" width="1.1" height="1.1"/><rect x="49.3" y="265.5" width="1.1" height="1.1"/><rect x="46.1" y="274.3" width="1.1" height="1.1"/><rect x="42.3" y="280.9" width="1.1" height="1.1"/><rect x="46.5" y="278.0" width="1.1" height="1.1"/><rect x="44.6" y="275.5" width="1.1" height="1.1"/><rect x="40.4" y="275.4" width="1.1" height="1.1"/><rect x="42.5" y="270.0" width="1.1" height="1.1"/><rect x="46.3" y="272.2" width="1.1" height="1.1"/><rect x="40.5" y="276.8" width="1.1" height="1.1"/><rect x="46.7" y="276.2" width="1.1" height="1.1"/><rect x="42.5" y="266.3" width="1.1" height="1.1"/><rect x="42.4" y="269.5" width="1.1" height="1.1"/><rect x="35.4" y="275.6" width="1.1" height="1.1"/><rect x="44.8" y="266.3" width="1.1" height="1.1"/><rect x="44.1" y="258.4" width="1.1" height="1.1"/><rect x="44.5" y="259.8" width="1.1" height="1.1"/><rect x="47.0" y="247.3" width="1.1" height="1.1"/><rect x="44.0" y="248.3" width="1.1" height="1.1"/><rect x="38.7" y="260.2" width="1.1" height="1.1"/><rect x="44.5" y="238.0" width="1.1" height="1.1"/><rect x="44.9" y="227.7" width="1.1" height="1.1"/><rect x="46.2" y="247.1" width="1.1" height="1.1"/><rect x="39.5" y="255.5" width="1.1" height="1.1"/><rect x="48.6" y="251.2" width="1.1" height="1.1"/><rect x="39.1" y="263.7" width="1.1" height="1.1"/><rect x="41.2" y="264.0" width="1.1" height="1.1"/><rect x="46.4" y="228.7" width="1.1" height="1.1"/><rect x="47.3" y="253.0" width="1.1" height="1.1"/><rect x="41.2" y="261.8" width="1.1" height="1.1"/><rect x="37.9" y="258.7" width="1.1" height="1.1"/><rect x="43.4" y="240.2" width="1.1" height="1.1"/><rect x="49.5" y="248.3" width="1.1" height="1.1"/><rect x="43.0" y="233.1" width="1.1" height="1.1"/><rect x="49.3" y="253.6" width="1.1" height="1.1"/><rect x="38.4" y="259.7" width="1.1" height="1.1"/><rect x="48.0" y="249.4" width="1.1" height="1.1"/><rect x="49.0" y="227.4" width="1.1" height="1.1"/><rect x="41.9" y="236.8" width="1.1" height="1.1"/><rect x="48.7" y="226.6" width="1.1" height="1.1"/><rect x="47.1" y="235.5" width="1.1" height="1.1"/><rect x="42.7" y="231.6" width="1.1" height="1.1"/><rect x="41.7" y="257.8" width="1.1" height="1.1"/><rect x="40.6" y="264.2" width="1.1" height="1.1"/><rect x="46.0" y="259.1" width="1.1" height="1.1"/><rect x="45.6" y="243.0" width="1.1" height="1.1"/><rect x="42.9" y="238.0" width="1.1" height="1.1"/><rect x="49.0" y="243.9" width="1.1" height="1.1"/><rect x="48.4" y="243.1" width="1.1" height="1.1"/><rect x="41.8" y="245.6" width="1.1" height="1.1"/><rect x="44.1" y="256.0" width="1.1" height="1.1"/><rect x="41.8" y="249.2" width="1.1" height="1.1"/><rect x="38.7" y="259.0" width="1.1" height="1.1"/><rect x="37.0" y="266.7" width="1.1" height="1.1"/><rect x="47.4" y="240.7" width="1.1" height="1.1"/><rect x="39.2" y="252.8" width="1.1" height="1.1"/><rect x="47.7" y="255.4" width="1.1" height="1.1"/><rect x="46.3" y="252.7" width="1.1" height="1.1"/><rect x="41.4" y="247.5" width="1.1" height="1.1"/><rect x="42.4" y="248.3" width="1.1" height="1.1"/><rect x="47.8" y="253.1" width="1.1" height="1.1"/><rect x="45.0" y="237.0" width="1.1" height="1.1"/><rect x="39.5" y="257.6" width="1.1" height="1.1"/><rect x="45.3" y="259.5" width="1.1" height="1.1"/><rect x="37.3" y="265.6" width="1.1" height="1.1"/><rect x="39.9" y="255.5" width="1.1" height="1.1"/><rect x="44.0" y="237.2" width="1.1" height="1.1"/><rect x="39.2" y="263.0" width="1.1" height="1.1"/><rect x="48.8" y="245.7" width="1.1" height="1.1"/><rect x="40.2" y="262.2" width="1.1" height="1.1"/><rect x="45.1" y="253.8" width="1.1" height="1.1"/><rect x="38.9" y="264.0" width="1.1" height="1.1"/><rect x="40.5" y="248.5" width="1.1" height="1.1"/><rect x="43.3" y="230.2" width="1.1" height="1.1"/><rect x="45.7" y="242.5" width="1.1" height="1.1"/><rect x="42.1" y="234.1" width="1.1" height="1.1"/><rect x="49.0" y="244.0" width="1.1" height="1.1"/><rect x="42.0" y="236.6" width="1.1" height="1.1"/><rect x="43.2" y="253.1" width="1.1" height="1.1"/><rect x="49.7" y="247.6" width="1.1" height="1.1"/><rect x="41.0" y="245.2" width="1.1" height="1.1"/><rect x="44.1" y="246.8" width="1.1" height="1.1"/><rect x="43.1" y="257.3" width="1.1" height="1.1"/><rect x="44.8" y="232.3" width="1.1" height="1.1"/><rect x="47.9" y="236.9" width="1.1" height="1.1"/><rect x="41.2" y="251.8" width="1.1" height="1.1"/><rect x="43.7" y="228.6" width="1.1" height="1.1"/><rect x="40.8" y="257.2" width="1.1" height="1.1"/><rect x="45.9" y="257.4" width="1.1" height="1.1"/><rect x="45.7" y="245.5" width="1.1" height="1.1"/><rect x="47.7" y="255.0" width="1.1" height="1.1"/><rect x="42.2" y="263.0" width="1.1" height="1.1"/><rect x="41.2" y="237.9" width="1.1" height="1.1"/><rect x="50.1" y="229.8" width="1.1" height="1.1"/><rect x="39.9" y="256.5" width="1.1" height="1.1"/><rect x="48.6" y="251.0" width="1.1" height="1.1"/><rect x="39.4" y="254.9" width="1.1" height="1.1"/><rect x="40.9" y="240.5" width="1.1" height="1.1"/><rect x="45.4" y="250.7" width="1.1" height="1.1"/><rect x="49.6" y="251.5" width="1.1" height="1.1"/></g>
<g fill="#e81020"><rect x="66.2" y="272.4" width="1.1" height="1.1"/><rect x="68.5" y="268.6" width="1.1" height="1.1"/><rect x="51.2" y="263.2" width="1.1" height="1.1"/><rect x="50.2" y="271.5" width="1.1" height="1.1"/><rect x="49.8" y="261.6" width="1.1" height="1.1"/><rect x="60.9" y="266.8" width="1.1" height="1.1"/><rect x="55.6" y="264.1" width="1.1" height="1.1"/><rect x="52.0" y="270.1" width="1.1" height="1.1"/><rect x="57.1" y="277.0" width="1.1" height="1.1"/><rect x="59.4" y="271.7" width="1.1" height="1.1"/><rect x="61.3" y="260.4" width="1.1" height="1.1"/><rect x="52.9" y="269.3" width="1.1" height="1.1"/><rect x="59.6" y="274.9" width="1.1" height="1.1"/><rect x="54.2" y="266.9" width="1.1" height="1.1"/><rect x="54.5" y="271.3" width="1.1" height="1.1"/><rect x="55.1" y="271.5" width="1.1" height="1.1"/><rect x="55.6" y="270.2" width="1.1" height="1.1"/><rect x="50.6" y="264.2" width="1.1" height="1.1"/><rect x="67.9" y="269.9" width="1.1" height="1.1"/><rect x="64.5" y="267.0" width="1.1" height="1.1"/><rect x="65.2" y="266.8" width="1.1" height="1.1"/><rect x="51.6" y="267.7" width="1.1" height="1.1"/><rect x="62.8" y="268.2" width="1.1" height="1.1"/><rect x="54.9" y="259.8" width="1.1" height="1.1"/><rect x="66.5" y="270.1" width="1.1" height="1.1"/><rect x="58.7" y="275.8" width="1.1" height="1.1"/><rect x="50.1" y="269.4" width="1.1" height="1.1"/><rect x="58.5" y="269.7" width="1.1" height="1.1"/><rect x="71.1" y="272.7" width="1.1" height="1.1"/><rect x="60.1" y="262.7" width="1.1" height="1.1"/><rect x="57.7" y="277.3" width="1.1" height="1.1"/><rect x="51.2" y="273.5" width="1.1" height="1.1"/><rect x="49.9" y="268.5" width="1.1" height="1.1"/><rect x="64.2" y="272.2" width="1.1" height="1.1"/><rect x="54.4" y="277.7" width="1.1" height="1.1"/><rect x="55.3" y="265.3" width="1.1" height="1.1"/><rect x="57.8" y="260.8" width="1.1" height="1.1"/><rect x="61.3" y="271.6" width="1.1" height="1.1"/><rect x="51.3" y="271.0" width="1.1" height="1.1"/><rect x="63.6" y="273.7" width="1.1" height="1.1"/><rect x="56.4" y="276.9" width="1.1" height="1.1"/><rect x="58.2" y="269.3" width="1.1" height="1.1"/><rect x="55.7" y="261.9" width="1.1" height="1.1"/><rect x="51.7" y="267.8" width="1.1" height="1.1"/><rect x="58.4" y="274.8" width="1.1" height="1.1"/><rect x="67.9" y="273.5" width="1.1" height="1.1"/><rect x="58.1" y="274.5" width="1.1" height="1.1"/><rect x="58.4" y="263.2" width="1.1" height="1.1"/><rect x="52.7" y="277.6" width="1.1" height="1.1"/><rect x="55.2" y="268.5" width="1.1" height="1.1"/><rect x="53.3" y="268.8" width="1.1" height="1.1"/><rect x="53.8" y="278.0" width="1.1" height="1.1"/><rect x="50.9" y="260.5" width="1.1" height="1.1"/><rect x="59.2" y="273.8" width="1.1" height="1.1"/><rect x="61.5" y="264.9" width="1.1" height="1.1"/><rect x="62.6" y="264.0" width="1.1" height="1.1"/><rect x="68.8" y="266.0" width="1.1" height="1.1"/><rect x="63.4" y="269.8" width="1.1" height="1.1"/><rect x="57.3" y="271.3" width="1.1" height="1.1"/><rect x="60.7" y="277.7" width="1.1" height="1.1"/><rect x="54.6" y="277.7" width="1.1" height="1.1"/><rect x="53.4" y="270.4" width="1.1" height="1.1"/><rect x="50.5" y="267.0" width="1.1" height="1.1"/><rect x="51.6" y="271.9" width="1.1" height="1.1"/><rect x="51.6" y="276.9" width="1.1" height="1.1"/><rect x="59.0" y="272.6" width="1.1" height="1.1"/><rect x="55.3" y="276.8" width="1.1" height="1.1"/><rect x="58.1" y="274.1" width="1.1" height="1.1"/><rect x="57.7" y="277.5" width="1.1" height="1.1"/><rect x="55.0" y="277.1" width="1.1" height="1.1"/><rect x="56.9" y="277.0" width="1.1" height="1.1"/><rect x="54.6" y="262.8" width="1.1" height="1.1"/><rect x="52.7" y="267.3" width="1.1" height="1.1"/><rect x="53.9" y="260.9" width="1.1" height="1.1"/><rect x="53.8" y="278.1" width="1.1" height="1.1"/><rect x="63.9" y="272.8" width="1.1" height="1.1"/><rect x="53.3" y="274.6" width="1.1" height="1.1"/><rect x="50.7" y="270.3" width="1.1" height="1.1"/><rect x="54.3" y="270.1" width="1.1" height="1.1"/><rect x="50.0" y="261.2" width="1.1" height="1.1"/><rect x="53.6" y="263.4" width="1.1" height="1.1"/><rect x="53.7" y="269.2" width="1.1" height="1.1"/><rect x="56.8" y="262.2" width="1.1" height="1.1"/><rect x="55.3" y="277.2" width="1.1" height="1.1"/><rect x="58.1" y="274.7" width="1.1" height="1.1"/><rect x="54.1" y="277.5" width="1.1" height="1.1"/><rect x="49.9" y="268.6" width="1.1" height="1.1"/><rect x="58.9" y="268.5" width="1.1" height="1.1"/><rect x="57.3" y="264.5" width="1.1" height="1.1"/><rect x="54.1" y="266.9" width="1.1" height="1.1"/><rect x="49.9" y="274.7" width="1.1" height="1.1"/><rect x="58.2" y="263.7" width="1.1" height="1.1"/><rect x="56.2" y="275.7" width="1.1" height="1.1"/><rect x="56.4" y="275.4" width="1.1" height="1.1"/><rect x="52.6" y="267.1" width="1.1" height="1.1"/><rect x="59.0" y="275.8" width="1.1" height="1.1"/><rect x="61.7" y="263.0" width="1.1" height="1.1"/><rect x="58.9" y="260.5" width="1.1" height="1.1"/><rect x="65.6" y="265.0" width="1.1" height="1.1"/><rect x="51.8" y="274.0" width="1.1" height="1.1"/><rect x="65.6" y="274.6" width="1.1" height="1.1"/><rect x="62.1" y="272.0" width="1.1" height="1.1"/><rect x="53.5" y="274.1" width="1.1" height="1.1"/><rect x="54.2" y="260.8" width="1.1" height="1.1"/><rect x="50.5" y="270.5" width="1.1" height="1.1"/><rect x="57.0" y="272.1" width="1.1" height="1.1"/><rect x="59.3" y="272.9" width="1.1" height="1.1"/><rect x="70.8" y="271.7" width="1.1" height="1.1"/><rect x="50.6" y="268.2" width="1.1" height="1.1"/><rect x="60.9" y="260.4" width="1.1" height="1.1"/><rect x="53.7" y="276.4" width="1.1" height="1.1"/><rect x="61.5" y="273.3" width="1.1" height="1.1"/><rect x="55.4" y="259.8" width="1.1" height="1.1"/><rect x="55.1" y="277.6" width="1.1" height="1.1"/><rect x="66.4" y="266.8" width="1.1" height="1.1"/><rect x="50.7" y="277.8" width="1.1" height="1.1"/><rect x="55.7" y="271.7" width="1.1" height="1.1"/><rect x="58.3" y="273.2" width="1.1" height="1.1"/><rect x="52.7" y="272.9" width="1.1" height="1.1"/><rect x="53.5" y="265.8" width="1.1" height="1.1"/><rect x="69.2" y="274.5" width="1.1" height="1.1"/><rect x="51.0" y="279.3" width="1.1" height="1.1"/><rect x="61.8" y="270.9" width="1.1" height="1.1"/><rect x="52.7" y="271.0" width="1.1" height="1.1"/><rect x="56.1" y="264.8" width="1.1" height="1.1"/><rect x="62.8" y="274.6" width="1.1" height="1.1"/><rect x="61.4" y="269.8" width="1.1" height="1.1"/><rect x="61.3" y="264.2" width="1.1" height="1.1"/><rect x="57.2" y="271.4" width="1.1" height="1.1"/><rect x="50.1" y="276.6" width="1.1" height="1.1"/><rect x="64.0" y="263.5" width="1.1" height="1.1"/><rect x="52.7" y="278.2" width="1.1" height="1.1"/><rect x="51.8" y="276.5" width="1.1" height="1.1"/><rect x="60.8" y="261.8" width="1.1" height="1.1"/><rect x="50.3" y="272.8" width="1.1" height="1.1"/><rect x="58.1" y="266.9" width="1.1" height="1.1"/><rect x="55.8" y="265.4" width="1.1" height="1.1"/><rect x="55.7" y="273.7" width="1.1" height="1.1"/><rect x="56.8" y="267.3" width="1.1" height="1.1"/><rect x="59.9" y="275.9" width="1.1" height="1.1"/><rect x="56.5" y="263.2" width="1.1" height="1.1"/><rect x="52.5" y="263.8" width="1.1" height="1.1"/><rect x="62.9" y="261.7" width="1.1" height="1.1"/><rect x="59.4" y="266.7" width="1.1" height="1.1"/><rect x="51.7" y="272.0" width="1.1" height="1.1"/><rect x="51.1" y="264.9" width="1.1" height="1.1"/><rect x="61.5" y="271.1" width="1.1" height="1.1"/><rect x="53.4" y="262.6" width="1.1" height="1.1"/><rect x="53.7" y="270.2" width="1.1" height="1.1"/><rect x="61.7" y="264.4" width="1.1" height="1.1"/><rect x="66.2" y="268.7" width="1.1" height="1.1"/><rect x="53.1" y="260.8" width="1.1" height="1.1"/><rect x="56.3" y="267.3" width="1.1" height="1.1"/><rect x="56.9" y="261.2" width="1.1" height="1.1"/><rect x="69.3" y="270.6" width="1.1" height="1.1"/><rect x="57.3" y="269.5" width="1.1" height="1.1"/><rect x="57.2" y="267.7" width="1.1" height="1.1"/><rect x="59.7" y="264.4" width="1.1" height="1.1"/><rect x="58.1" y="264.6" width="1.1" height="1.1"/><rect x="60.7" y="274.6" width="1.1" height="1.1"/><rect x="54.9" y="260.9" width="1.1" height="1.1"/><rect x="57.2" y="264.5" width="1.1" height="1.1"/><rect x="57.3" y="278.3" width="1.1" height="1.1"/><rect x="63.6" y="272.3" width="1.1" height="1.1"/><rect x="51.3" y="267.7" width="1.1" height="1.1"/><rect x="56.2" y="262.6" width="1.1" height="1.1"/><rect x="59.6" y="265.0" width="1.1" height="1.1"/><rect x="60.3" y="272.8" width="1.1" height="1.1"/><rect x="51.0" y="260.5" width="1.1" height="1.1"/><rect x="51.7" y="266.0" width="1.1" height="1.1"/><rect x="59.6" y="274.3" width="1.1" height="1.1"/><rect x="58.8" y="268.5" width="1.1" height="1.1"/><rect x="54.2" y="276.5" width="1.1" height="1.1"/><rect x="50.1" y="271.3" width="1.1" height="1.1"/><rect x="55.2" y="268.8" width="1.1" height="1.1"/><rect x="53.4" y="263.4" width="1.1" height="1.1"/><rect x="58.7" y="265.1" width="1.1" height="1.1"/><rect x="53.5" y="278.5" width="1.1" height="1.1"/><rect x="51.0" y="259.2" width="1.1" height="1.1"/><rect x="62.2" y="267.4" width="1.1" height="1.1"/><rect x="54.1" y="270.6" width="1.1" height="1.1"/><rect x="54.4" y="264.6" width="1.1" height="1.1"/><rect x="57.6" y="262.2" width="1.1" height="1.1"/><rect x="52.2" y="276.7" width="1.1" height="1.1"/><rect x="51.8" y="265.3" width="1.1" height="1.1"/><rect x="53.1" y="268.5" width="1.1" height="1.1"/><rect x="53.0" y="273.2" width="1.1" height="1.1"/><rect x="56.5" y="267.4" width="1.1" height="1.1"/><rect x="57.2" y="275.8" width="1.1" height="1.1"/><rect x="54.5" y="265.7" width="1.1" height="1.1"/><rect x="61.4" y="249.6" width="1.1" height="1.1"/><rect x="58.6" y="256.1" width="1.1" height="1.1"/><rect x="58.9" y="253.2" width="1.1" height="1.1"/><rect x="51.7" y="250.6" width="1.1" height="1.1"/><rect x="54.7" y="251.8" width="1.1" height="1.1"/><rect x="50.8" y="240.0" width="1.1" height="1.1"/><rect x="55.7" y="256.1" width="1.1" height="1.1"/><rect x="51.0" y="251.9" width="1.1" height="1.1"/><rect x="53.5" y="250.3" width="1.1" height="1.1"/><rect x="53.3" y="241.9" width="1.1" height="1.1"/><rect x="57.0" y="247.1" width="1.1" height="1.1"/><rect x="60.8" y="251.1" width="1.1" height="1.1"/><rect x="51.6" y="249.5" width="1.1" height="1.1"/><rect x="50.0" y="257.2" width="1.1" height="1.1"/><rect x="57.3" y="244.3" width="1.1" height="1.1"/><rect x="55.6" y="242.1" width="1.1" height="1.1"/><rect x="61.6" y="250.8" width="1.1" height="1.1"/><rect x="50.0" y="257.6" width="1.1" height="1.1"/><rect x="51.2" y="251.8" width="1.1" height="1.1"/><rect x="54.0" y="243.4" width="1.1" height="1.1"/><rect x="58.5" y="259.0" width="1.1" height="1.1"/><rect x="55.0" y="244.2" width="1.1" height="1.1"/><rect x="53.5" y="258.4" width="1.1" height="1.1"/><rect x="58.6" y="240.3" width="1.1" height="1.1"/><rect x="51.1" y="257.8" width="1.1" height="1.1"/><rect x="50.9" y="248.7" width="1.1" height="1.1"/><rect x="54.8" y="240.1" width="1.1" height="1.1"/><rect x="53.1" y="239.3" width="1.1" height="1.1"/><rect x="57.6" y="252.3" width="1.1" height="1.1"/><rect x="57.0" y="240.5" width="1.1" height="1.1"/><rect x="54.2" y="255.8" width="1.1" height="1.1"/><rect x="57.1" y="250.1" width="1.1" height="1.1"/><rect x="54.2" y="252.8" width="1.1" height="1.1"/><rect x="59.7" y="239.3" width="1.1" height="1.1"/><rect x="54.7" y="238.2" width="1.1" height="1.1"/><rect x="57.4" y="256.3" width="1.1" height="1.1"/><rect x="60.1" y="259.9" width="1.1" height="1.1"/><rect x="52.5" y="238.7" width="1.1" height="1.1"/><rect x="51.6" y="254.7" width="1.1" height="1.1"/><rect x="50.4" y="257.4" width="1.1" height="1.1"/><rect x="76.1" y="263.7" width="1.1" height="1.1"/><rect x="87.5" y="270.8" width="1.1" height="1.1"/><rect x="80.0" y="270.3" width="1.1" height="1.1"/><rect x="70.2" y="263.8" width="1.1" height="1.1"/><rect x="71.6" y="270.8" width="1.1" height="1.1"/><rect x="87.1" y="264.9" width="1.1" height="1.1"/><rect x="69.3" y="269.4" width="1.1" height="1.1"/><rect x="76.4" y="272.5" width="1.1" height="1.1"/><rect x="87.9" y="270.6" width="1.1" height="1.1"/><rect x="71.1" y="266.2" width="1.1" height="1.1"/><rect x="77.7" y="274.6" width="1.1" height="1.1"/><rect x="70.8" y="275.6" width="1.1" height="1.1"/><rect x="72.5" y="263.6" width="1.1" height="1.1"/><rect x="79.9" y="265.7" width="1.1" height="1.1"/><rect x="79.5" y="273.2" width="1.1" height="1.1"/><rect x="72.3" y="275.5" width="1.1" height="1.1"/><rect x="81.0" y="273.2" width="1.1" height="1.1"/><rect x="77.5" y="265.4" width="1.1" height="1.1"/><rect x="66.1" y="263.6" width="1.1" height="1.1"/><rect x="76.4" y="269.6" width="1.1" height="1.1"/><rect x="69.3" y="274.2" width="1.1" height="1.1"/><rect x="72.5" y="273.5" width="1.1" height="1.1"/><rect x="78.1" y="270.1" width="1.1" height="1.1"/><rect x="78.6" y="274.1" width="1.1" height="1.1"/><rect x="78.6" y="268.5" width="1.1" height="1.1"/><rect x="78.4" y="271.4" width="1.1" height="1.1"/><rect x="87.0" y="272.0" width="1.1" height="1.1"/><rect x="81.4" y="265.8" width="1.1" height="1.1"/><rect x="51.5" y="221.9" width="1.1" height="1.1"/><rect x="52.5" y="223.4" width="1.1" height="1.1"/><rect x="66.5" y="246.4" width="1.1" height="1.1"/><rect x="75.5" y="245.4" width="1.1" height="1.1"/><rect x="55.5" y="229.4" width="1.1" height="1.1"/><rect x="57.5" y="242.4" width="1.1" height="1.1"/><rect x="68.5" y="254.4" width="1.1" height="1.1"/><rect x="79.5" y="259.4" width="1.1" height="1.1"/><rect x="108.5" y="237.4" width="1.1" height="1.1"/><rect x="83.5" y="251.4" width="1.1" height="1.1"/></g>
<path d="M28.00,229.80 H89.60 V287.90 H28.00 Z" fill="none" stroke="#151515" stroke-width="0.95"/>
<line x1="28.00" y1="229.80" x2="62.60" y2="195.20" stroke="#151515" stroke-width="0.95"/>
<line x1="89.60" y1="229.80" x2="124.20" y2="195.20" stroke="#151515" stroke-width="0.95"/>
<circle cx="64.7" cy="187.0" r="1.0" fill="#b01030"/>
<text x="70.50" y="188.60" font-size="4.8" text-anchor="start" font-weight="bold" fill="#111" font-family='"Liberation Serif", serif' textLength="10.2" lengthAdjust="spacingAndGlyphs"  stroke="#111" stroke-width="0.250">High</text>
<circle cx="96.0" cy="187.0" r="0.9" fill="#b8d8a8"/>
<text x="104.20" y="188.60" font-size="4.8" text-anchor="start" font-weight="bold" fill="#111" font-family='"Liberation Serif", serif' textLength="8.3" lengthAdjust="spacingAndGlyphs"  stroke="#111" stroke-width="0.250">Low</text>
<line x1="27.10" y1="287.90" x2="28.00" y2="287.90" stroke="#333" stroke-width="0.6"/>
<text x="24.40" y="288.80" font-size="2.6" text-anchor="middle" font-weight="normal" fill="#333"  stroke="#333" stroke-width="0.300">0</text>
<line x1="27.10" y1="278.22" x2="28.00" y2="278.22" stroke="#333" stroke-width="0.6"/>
<text x="24.40" y="279.12" font-size="2.6" text-anchor="middle" font-weight="normal" fill="#333"  stroke="#333" stroke-width="0.300">2</text>
<line x1="27.10" y1="268.53" x2="28.00" y2="268.53" stroke="#333" stroke-width="0.6"/>
<text x="24.40" y="269.43" font-size="2.6" text-anchor="middle" font-weight="normal" fill="#333"  stroke="#333" stroke-width="0.300">4</text>
<line x1="27.10" y1="258.85" x2="28.00" y2="258.85" stroke="#333" stroke-width="0.6"/>
<text x="24.40" y="259.75" font-size="2.6" text-anchor="middle" font-weight="normal" fill="#333"  stroke="#333" stroke-width="0.300">6</text>
<line x1="27.10" y1="249.17" x2="28.00" y2="249.17" stroke="#333" stroke-width="0.6"/>
<text x="24.40" y="250.07" font-size="2.6" text-anchor="middle" font-weight="normal" fill="#333"  stroke="#333" stroke-width="0.300">8</text>
<line x1="27.10" y1="239.48" x2="28.00" y2="239.48" stroke="#333" stroke-width="0.6"/>
<text x="24.40" y="240.38" font-size="2.6" text-anchor="middle" font-weight="normal" fill="#333"  stroke="#333" stroke-width="0.300">10</text>
<line x1="27.10" y1="229.80" x2="28.00" y2="229.80" stroke="#333" stroke-width="0.6"/>
<text x="24.40" y="230.70" font-size="2.6" text-anchor="middle" font-weight="normal" fill="#333"  stroke="#333" stroke-width="0.300">12</text>
<text x="28.00" y="293.40" font-size="2.5" text-anchor="middle" font-weight="normal" fill="#333"  stroke="#333" stroke-width="0.300">-0.8</text>
<text x="35.70" y="293.40" font-size="2.5" text-anchor="middle" font-weight="normal" fill="#333"  stroke="#333" stroke-width="0.300">-0.6</text>
<text x="43.40" y="293.40" font-size="2.5" text-anchor="middle" font-weight="normal" fill="#333"  stroke="#333" stroke-width="0.300">-0.4</text>
<text x="51.10" y="293.40" font-size="2.5" text-anchor="middle" font-weight="normal" fill="#333"  stroke="#333" stroke-width="0.300">-0.2</text>
<text x="58.80" y="293.40" font-size="2.5" text-anchor="middle" font-weight="normal" fill="#333"  stroke="#333" stroke-width="0.300">0.0</text>
<text x="66.50" y="293.40" font-size="2.5" text-anchor="middle" font-weight="normal" fill="#333"  stroke="#333" stroke-width="0.300">0.2</text>
<text x="74.20" y="293.40" font-size="2.5" text-anchor="middle" font-weight="normal" fill="#333"  stroke="#333" stroke-width="0.300">0.4</text>
<text x="81.90" y="293.40" font-size="2.5" text-anchor="middle" font-weight="normal" fill="#333"  stroke="#333" stroke-width="0.300">0.6</text>
<text x="89.60" y="293.40" font-size="2.5" text-anchor="middle" font-weight="normal" fill="#333"  stroke="#333" stroke-width="0.300">0.8</text>
<text x="95.60" y="288.90" font-size="2.5" text-anchor="middle" font-weight="normal" fill="#333"  stroke="#333" stroke-width="0.300">-0.6</text>
<text x="101.37" y="283.13" font-size="2.5" text-anchor="middle" font-weight="normal" fill="#333"  stroke="#333" stroke-width="0.300">-0.4</text>
<text x="107.13" y="277.37" font-size="2.5" text-anchor="middle" font-weight="normal" fill="#333"  stroke="#333" stroke-width="0.300">-0.2</text>
<text x="112.90" y="271.60" font-size="2.5" text-anchor="middle" font-weight="normal" fill="#333"  stroke="#333" stroke-width="0.300">0.0</text>
<text x="118.67" y="265.83" font-size="2.5" text-anchor="middle" font-weight="normal" fill="#333"  stroke="#333" stroke-width="0.300">0.2</text>
<text x="124.43" y="260.07" font-size="2.5" text-anchor="middle" font-weight="normal" fill="#333"  stroke="#333" stroke-width="0.300">0.4</text>
<text x="130.20" y="254.30" font-size="2.5" text-anchor="middle" font-weight="normal" fill="#333"  stroke="#333" stroke-width="0.300">0.6</text>
<text x="57.30" y="298.70" font-size="2.8" text-anchor="middle" font-weight="normal" fill="#333"  stroke="#333" stroke-width="0.300">PC1</text>
<text x="18.00" y="260.05" font-size="3.0" text-anchor="middle" font-weight="normal" fill="#333" transform="rotate(-90 18.00 260.05)"  stroke="#333" stroke-width="0.300">PC3</text>
<text x="139.00" y="253.30" font-size="3.0" text-anchor="middle" font-weight="normal" fill="#333" transform="rotate(-90 139.00 253.30)"  stroke="#333" stroke-width="0.300">PC2</text>
<text x="158.30" y="191.20" font-size="8.2" text-anchor="start" font-weight="bold" fill="#111"  stroke="#111" stroke-width="0.400">F</text>
<line x1="192.13" y1="288.10" x2="227.53" y2="251.50" stroke="#8c8c8c" stroke-width="0.6"/>
<line x1="202.67" y1="288.10" x2="238.07" y2="251.50" stroke="#8c8c8c" stroke-width="0.6"/>
<line x1="213.20" y1="288.10" x2="248.60" y2="251.50" stroke="#8c8c8c" stroke-width="0.6"/>
<line x1="223.73" y1="288.10" x2="259.13" y2="251.50" stroke="#8c8c8c" stroke-width="0.6"/>
<line x1="234.27" y1="288.10" x2="269.67" y2="251.50" stroke="#8c8c8c" stroke-width="0.6"/>
<line x1="187.50" y1="282.00" x2="250.70" y2="282.00" stroke="#8c8c8c" stroke-width="0.6"/>
<line x1="193.40" y1="275.90" x2="256.60" y2="275.90" stroke="#8c8c8c" stroke-width="0.6"/>
<line x1="199.30" y1="269.80" x2="262.50" y2="269.80" stroke="#8c8c8c" stroke-width="0.6"/>
<line x1="205.20" y1="263.70" x2="268.40" y2="263.70" stroke="#8c8c8c" stroke-width="0.6"/>
<line x1="211.10" y1="257.60" x2="274.30" y2="257.60" stroke="#8c8c8c" stroke-width="0.6"/>
<path d="M217.00,196.80 H280.20 V251.50 H217.00 Z" fill="none" stroke="#151515" stroke-width="0.95"/>
<line x1="244.80" y1="288.10" x2="280.20" y2="251.50" stroke="#151515" stroke-width="0.95"/>
<line x1="181.60" y1="288.10" x2="217.00" y2="251.50" stroke="#151515" stroke-width="0.95"/>
<g fill="#3cd83c"><rect x="220.3" y="260.0" width="1.1" height="1.1"/><rect x="224.1" y="256.4" width="1.1" height="1.1"/><rect x="218.0" y="251.0" width="1.1" height="1.1"/><rect x="223.1" y="252.3" width="1.1" height="1.1"/><rect x="219.9" y="250.2" width="1.1" height="1.1"/><rect x="220.3" y="249.4" width="1.1" height="1.1"/><rect x="224.4" y="251.6" width="1.1" height="1.1"/><rect x="212.3" y="262.0" width="1.1" height="1.1"/><rect x="223.7" y="248.7" width="1.1" height="1.1"/><rect x="217.1" y="264.9" width="1.1" height="1.1"/><rect x="220.4" y="263.2" width="1.1" height="1.1"/><rect x="214.6" y="251.5" width="1.1" height="1.1"/><rect x="212.8" y="269.0" width="1.1" height="1.1"/><rect x="226.2" y="244.3" width="1.1" height="1.1"/><rect x="218.8" y="267.7" width="1.1" height="1.1"/><rect x="215.9" y="250.0" width="1.1" height="1.1"/><rect x="215.4" y="267.6" width="1.1" height="1.1"/><rect x="226.2" y="256.7" width="1.1" height="1.1"/><rect x="226.7" y="256.2" width="1.1" height="1.1"/><rect x="213.1" y="267.2" width="1.1" height="1.1"/><rect x="215.8" y="250.9" width="1.1" height="1.1"/><rect x="216.0" y="251.5" width="1.1" height="1.1"/><rect x="212.7" y="263.3" width="1.1" height="1.1"/><rect x="227.4" y="249.8" width="1.1" height="1.1"/><rect x="210.2" y="265.3" width="1.1" height="1.1"/><rect x="225.0" y="253.5" width="1.1" height="1.1"/><rect x="219.9" y="248.1" width="1.1" height="1.1"/><rect x="223.7" y="247.9" width="1.1" height="1.1"/><rect x="215.7" y="255.8" width="1.1" height="1.1"/><rect x="224.2" y="262.5" width="1.1" height="1.1"/><rect x="220.2" y="257.0" width="1.1" height="1.1"/><rect x="224.4" y="251.0" width="1.1" height="1.1"/><rect x="224.8" y="249.0" width="1.1" height="1.1"/><rect x="216.3" y="264.9" width="1.1" height="1.1"/><rect x="223.8" y="254.2" width="1.1" height="1.1"/><rect x="215.3" y="261.2" width="1.1" height="1.1"/><rect x="224.4" y="266.4" width="1.1" height="1.1"/><rect x="217.7" y="250.4" width="1.1" height="1.1"/><rect x="225.5" y="268.0" width="1.1" height="1.1"/><rect x="223.6" y="245.5" width="1.1" height="1.1"/><rect x="212.6" y="267.5" width="1.1" height="1.1"/><rect x="219.5" y="252.2" width="1.1" height="1.1"/><rect x="223.4" y="265.7" width="1.1" height="1.1"/><rect x="223.0" y="251.2" width="1.1" height="1.1"/><rect x="218.2" y="261.9" width="1.1" height="1.1"/><rect x="216.7" y="259.6" width="1.1" height="1.1"/><rect x="217.0" y="250.2" width="1.1" height="1.1"/><rect x="214.7" y="254.5" width="1.1" height="1.1"/><rect x="225.8" y="268.9" width="1.1" height="1.1"/><rect x="215.5" y="249.9" width="1.1" height="1.1"/><rect x="224.8" y="265.1" width="1.1" height="1.1"/><rect x="220.4" y="269.2" width="1.1" height="1.1"/><rect x="217.3" y="256.0" width="1.1" height="1.1"/><rect x="219.3" y="248.8" width="1.1" height="1.1"/><rect x="225.8" y="252.9" width="1.1" height="1.1"/><rect x="225.9" y="259.2" width="1.1" height="1.1"/><rect x="209.6" y="260.8" width="1.1" height="1.1"/><rect x="217.0" y="254.2" width="1.1" height="1.1"/><rect x="224.2" y="255.5" width="1.1" height="1.1"/><rect x="226.4" y="244.8" width="1.1" height="1.1"/><rect x="216.4" y="251.3" width="1.1" height="1.1"/><rect x="218.5" y="259.9" width="1.1" height="1.1"/><rect x="223.9" y="269.6" width="1.1" height="1.1"/><rect x="217.5" y="260.4" width="1.1" height="1.1"/><rect x="224.8" y="262.7" width="1.1" height="1.1"/><rect x="206.3" y="268.4" width="1.1" height="1.1"/><rect x="217.1" y="260.9" width="1.1" height="1.1"/><rect x="226.9" y="247.9" width="1.1" height="1.1"/><rect x="213.9" y="261.7" width="1.1" height="1.1"/><rect x="223.7" y="262.7" width="1.1" height="1.1"/><rect x="225.8" y="255.8" width="1.1" height="1.1"/><rect x="225.9" y="254.2" width="1.1" height="1.1"/><rect x="213.2" y="266.0" width="1.1" height="1.1"/><rect x="220.2" y="253.0" width="1.1" height="1.1"/><rect x="220.5" y="253.6" width="1.1" height="1.1"/><rect x="223.9" y="268.5" width="1.1" height="1.1"/><rect x="212.9" y="266.4" width="1.1" height="1.1"/><rect x="220.9" y="267.3" width="1.1" height="1.1"/><rect x="226.2" y="254.2" width="1.1" height="1.1"/><rect x="219.2" y="254.4" width="1.1" height="1.1"/><rect x="212.1" y="267.0" width="1.1" height="1.1"/><rect x="221.6" y="250.1" width="1.1" height="1.1"/><rect x="225.2" y="266.7" width="1.1" height="1.1"/><rect x="215.5" y="257.9" width="1.1" height="1.1"/><rect x="224.8" y="245.7" width="1.1" height="1.1"/><rect x="227.0" y="250.0" width="1.1" height="1.1"/><rect x="222.3" y="255.4" width="1.1" height="1.1"/><rect x="224.7" y="250.9" width="1.1" height="1.1"/><rect x="223.0" y="251.7" width="1.1" height="1.1"/><rect x="221.5" y="262.0" width="1.1" height="1.1"/><rect x="210.6" y="261.7" width="1.1" height="1.1"/><rect x="217.6" y="263.3" width="1.1" height="1.1"/><rect x="224.2" y="245.8" width="1.1" height="1.1"/><rect x="218.6" y="250.3" width="1.1" height="1.1"/><rect x="226.2" y="253.2" width="1.1" height="1.1"/><rect x="213.0" y="254.4" width="1.1" height="1.1"/><rect x="208.7" y="264.3" width="1.1" height="1.1"/><rect x="213.4" y="259.8" width="1.1" height="1.1"/><rect x="226.4" y="249.3" width="1.1" height="1.1"/><rect x="210.6" y="261.0" width="1.1" height="1.1"/><rect x="216.5" y="257.5" width="1.1" height="1.1"/><rect x="226.8" y="250.3" width="1.1" height="1.1"/><rect x="211.9" y="270.0" width="1.1" height="1.1"/><rect x="217.1" y="249.0" width="1.1" height="1.1"/><rect x="223.7" y="246.9" width="1.1" height="1.1"/><rect x="223.2" y="250.0" width="1.1" height="1.1"/><rect x="226.1" y="248.7" width="1.1" height="1.1"/><rect x="211.5" y="258.7" width="1.1" height="1.1"/><rect x="208.5" y="263.0" width="1.1" height="1.1"/><rect x="219.4" y="263.1" width="1.1" height="1.1"/><rect x="222.3" y="254.1" width="1.1" height="1.1"/><rect x="225.9" y="255.6" width="1.1" height="1.1"/><rect x="225.5" y="266.7" width="1.1" height="1.1"/><rect x="214.1" y="262.5" width="1.1" height="1.1"/><rect x="226.1" y="247.9" width="1.1" height="1.1"/><rect x="224.9" y="247.6" width="1.1" height="1.1"/><rect x="219.3" y="259.7" width="1.1" height="1.1"/><rect x="220.7" y="252.8" width="1.1" height="1.1"/><rect x="210.8" y="269.8" width="1.1" height="1.1"/><rect x="225.0" y="264.2" width="1.1" height="1.1"/><rect x="220.1" y="253.4" width="1.1" height="1.1"/><rect x="214.2" y="268.2" width="1.1" height="1.1"/><rect x="223.1" y="259.0" width="1.1" height="1.1"/><rect x="226.7" y="248.7" width="1.1" height="1.1"/><rect x="227.0" y="266.4" width="1.1" height="1.1"/><rect x="218.8" y="268.5" width="1.1" height="1.1"/><rect x="223.4" y="264.4" width="1.1" height="1.1"/><rect x="214.6" y="261.1" width="1.1" height="1.1"/><rect x="223.7" y="254.7" width="1.1" height="1.1"/><rect x="210.8" y="266.6" width="1.1" height="1.1"/><rect x="226.0" y="251.4" width="1.1" height="1.1"/><rect x="219.0" y="258.4" width="1.1" height="1.1"/><rect x="220.5" y="250.7" width="1.1" height="1.1"/><rect x="221.1" y="259.7" width="1.1" height="1.1"/><rect x="215.9" y="268.5" width="1.1" height="1.1"/><rect x="225.4" y="248.0" width="1.1" height="1.1"/><rect x="226.1" y="247.6" width="1.1" height="1.1"/><rect x="214.4" y="262.3" width="1.1" height="1.1"/><rect x="210.5" y="261.6" width="1.1" height="1.1"/><rect x="221.1" y="255.4" width="1.1" height="1.1"/><rect x="225.2" y="255.7" width="1.1" height="1.1"/><rect x="220.4" y="265.2" width="1.1" height="1.1"/><rect x="219.7" y="252.1" width="1.1" height="1.1"/><rect x="219.9" y="268.8" width="1.1" height="1.1"/><rect x="219.9" y="267.6" width="1.1" height="1.1"/><rect x="226.4" y="247.0" width="1.1" height="1.1"/><rect x="222.2" y="246.5" width="1.1" height="1.1"/><rect x="222.4" y="258.1" width="1.1" height="1.1"/><rect x="223.7" y="258.9" width="1.1" height="1.1"/><rect x="225.5" y="251.2" width="1.1" height="1.1"/><rect x="226.2" y="263.9" width="1.1" height="1.1"/><rect x="222.1" y="251.3" width="1.1" height="1.1"/><rect x="217.9" y="268.2" width="1.1" height="1.1"/><rect x="223.1" y="261.7" width="1.1" height="1.1"/><rect x="222.1" y="256.6" width="1.1" height="1.1"/><rect x="206.1" y="270.4" width="1.1" height="1.1"/><rect x="220.8" y="260.2" width="1.1" height="1.1"/><rect x="221.4" y="247.1" width="1.1" height="1.1"/><rect x="218.2" y="251.7" width="1.1" height="1.1"/><rect x="212.0" y="258.4" width="1.1" height="1.1"/><rect x="217.4" y="256.4" width="1.1" height="1.1"/><rect x="218.8" y="262.0" width="1.1" height="1.1"/><rect x="226.9" y="255.9" width="1.1" height="1.1"/><rect x="224.5" y="258.3" width="1.1" height="1.1"/><rect x="223.2" y="246.2" width="1.1" height="1.1"/><rect x="224.9" y="263.8" width="1.1" height="1.1"/><rect x="224.2" y="251.0" width="1.1" height="1.1"/><rect x="226.6" y="249.8" width="1.1" height="1.1"/><rect x="218.6" y="266.7" width="1.1" height="1.1"/><rect x="224.0" y="257.6" width="1.1" height="1.1"/><rect x="224.3" y="245.5" width="1.1" height="1.1"/><rect x="223.4" y="268.4" width="1.1" height="1.1"/><rect x="224.2" y="246.6" width="1.1" height="1.1"/><rect x="222.2" y="258.6" width="1.1" height="1.1"/><rect x="222.6" y="268.7" width="1.1" height="1.1"/><rect x="219.5" y="266.7" width="1.1" height="1.1"/><rect x="227.4" y="248.2" width="1.1" height="1.1"/><rect x="223.4" y="248.2" width="1.1" height="1.1"/><rect x="214.2" y="253.0" width="1.1" height="1.1"/><rect x="218.3" y="255.6" width="1.1" height="1.1"/><rect x="222.6" y="254.5" width="1.1" height="1.1"/><rect x="224.7" y="254.5" width="1.1" height="1.1"/><rect x="220.0" y="247.7" width="1.1" height="1.1"/><rect x="224.7" y="265.9" width="1.1" height="1.1"/><rect x="222.5" y="264.8" width="1.1" height="1.1"/><rect x="222.9" y="253.7" width="1.1" height="1.1"/><rect x="218.0" y="265.7" width="1.1" height="1.1"/><rect x="219.9" y="252.8" width="1.1" height="1.1"/><rect x="212.1" y="260.7" width="1.1" height="1.1"/><rect x="225.3" y="248.8" width="1.1" height="1.1"/><rect x="212.6" y="264.9" width="1.1" height="1.1"/><rect x="226.6" y="265.8" width="1.1" height="1.1"/><rect x="216.6" y="249.9" width="1.1" height="1.1"/><rect x="224.8" y="256.0" width="1.1" height="1.1"/><rect x="225.1" y="260.2" width="1.1" height="1.1"/><rect x="211.8" y="268.4" width="1.1" height="1.1"/><rect x="224.1" y="265.6" width="1.1" height="1.1"/><rect x="220.6" y="253.5" width="1.1" height="1.1"/><rect x="222.8" y="247.0" width="1.1" height="1.1"/><rect x="227.4" y="248.0" width="1.1" height="1.1"/><rect x="205.9" y="269.9" width="1.1" height="1.1"/><rect x="220.3" y="266.2" width="1.1" height="1.1"/><rect x="216.6" y="267.7" width="1.1" height="1.1"/><rect x="218.1" y="248.9" width="1.1" height="1.1"/><rect x="227.0" y="269.2" width="1.1" height="1.1"/><rect x="222.7" y="262.9" width="1.1" height="1.1"/><rect x="227.1" y="253.1" width="1.1" height="1.1"/><rect x="227.2" y="251.7" width="1.1" height="1.1"/><rect x="210.1" y="269.4" width="1.1" height="1.1"/><rect x="223.6" y="259.6" width="1.1" height="1.1"/><rect x="220.8" y="259.6" width="1.1" height="1.1"/><rect x="225.8" y="261.3" width="1.1" height="1.1"/><rect x="223.8" y="249.8" width="1.1" height="1.1"/><rect x="220.2" y="263.9" width="1.1" height="1.1"/><rect x="221.2" y="267.8" width="1.1" height="1.1"/><rect x="208.4" y="268.3" width="1.1" height="1.1"/><rect x="223.1" y="265.4" width="1.1" height="1.1"/><rect x="216.4" y="262.7" width="1.1" height="1.1"/><rect x="226.0" y="263.2" width="1.1" height="1.1"/><rect x="223.9" y="261.5" width="1.1" height="1.1"/><rect x="213.8" y="253.2" width="1.1" height="1.1"/><rect x="224.5" y="264.0" width="1.1" height="1.1"/><rect x="226.6" y="261.6" width="1.1" height="1.1"/><rect x="223.4" y="260.6" width="1.1" height="1.1"/><rect x="214.6" y="254.3" width="1.1" height="1.1"/><rect x="226.9" y="261.6" width="1.1" height="1.1"/><rect x="219.0" y="257.3" width="1.1" height="1.1"/><rect x="224.9" y="266.3" width="1.1" height="1.1"/><rect x="216.1" y="269.0" width="1.1" height="1.1"/><rect x="222.9" y="257.6" width="1.1" height="1.1"/><rect x="223.8" y="253.4" width="1.1" height="1.1"/><rect x="223.5" y="269.4" width="1.1" height="1.1"/><rect x="216.9" y="254.6" width="1.1" height="1.1"/><rect x="220.6" y="247.1" width="1.1" height="1.1"/><rect x="223.4" y="249.9" width="1.1" height="1.1"/><rect x="223.1" y="264.1" width="1.1" height="1.1"/><rect x="226.3" y="267.2" width="1.1" height="1.1"/><rect x="226.1" y="256.1" width="1.1" height="1.1"/><rect x="213.3" y="266.4" width="1.1" height="1.1"/><rect x="221.6" y="246.6" width="1.1" height="1.1"/><rect x="220.2" y="235.0" width="1.1" height="1.1"/><rect x="203.2" y="256.0" width="1.1" height="1.1"/><rect x="213.2" y="250.6" width="1.1" height="1.1"/><rect x="226.2" y="235.7" width="1.1" height="1.1"/><rect x="225.5" y="235.4" width="1.1" height="1.1"/><rect x="214.1" y="237.5" width="1.1" height="1.1"/><rect x="215.6" y="247.2" width="1.1" height="1.1"/><rect x="222.1" y="238.6" width="1.1" height="1.1"/><rect x="216.9" y="240.0" width="1.1" height="1.1"/><rect x="201.7" y="257.3" width="1.1" height="1.1"/><rect x="215.0" y="249.8" width="1.1" height="1.1"/><rect x="223.5" y="237.7" width="1.1" height="1.1"/><rect x="211.2" y="252.9" width="1.1" height="1.1"/><rect x="224.7" y="238.9" width="1.1" height="1.1"/><rect x="222.0" y="243.6" width="1.1" height="1.1"/><rect x="212.5" y="250.9" width="1.1" height="1.1"/><rect x="200.9" y="261.9" width="1.1" height="1.1"/><rect x="224.7" y="243.9" width="1.1" height="1.1"/><rect x="225.6" y="239.1" width="1.1" height="1.1"/><rect x="200.8" y="257.9" width="1.1" height="1.1"/><rect x="226.8" y="246.3" width="1.1" height="1.1"/><rect x="217.2" y="243.8" width="1.1" height="1.1"/><rect x="212.4" y="254.8" width="1.1" height="1.1"/><rect x="208.0" y="258.5" width="1.1" height="1.1"/><rect x="222.4" y="247.2" width="1.1" height="1.1"/><rect x="209.5" y="246.9" width="1.1" height="1.1"/><rect x="218.3" y="247.4" width="1.1" height="1.1"/><rect x="201.2" y="260.9" width="1.1" height="1.1"/><rect x="218.0" y="235.5" width="1.1" height="1.1"/><rect x="217.2" y="232.8" width="1.1" height="1.1"/><rect x="226.8" y="230.3" width="1.1" height="1.1"/><rect x="216.4" y="249.8" width="1.1" height="1.1"/><rect x="219.3" y="237.2" width="1.1" height="1.1"/><rect x="224.0" y="242.4" width="1.1" height="1.1"/><rect x="224.2" y="240.2" width="1.1" height="1.1"/><rect x="202.4" y="256.9" width="1.1" height="1.1"/><rect x="217.2" y="232.6" width="1.1" height="1.1"/><rect x="220.2" y="248.5" width="1.1" height="1.1"/><rect x="224.9" y="239.5" width="1.1" height="1.1"/><rect x="218.8" y="244.0" width="1.1" height="1.1"/><rect x="208.4" y="253.3" width="1.1" height="1.1"/><rect x="219.4" y="251.8" width="1.1" height="1.1"/><rect x="209.5" y="253.5" width="1.1" height="1.1"/><rect x="226.5" y="246.8" width="1.1" height="1.1"/><rect x="222.7" y="247.4" width="1.1" height="1.1"/><rect x="227.3" y="233.4" width="1.1" height="1.1"/><rect x="220.6" y="244.2" width="1.1" height="1.1"/><rect x="213.6" y="252.7" width="1.1" height="1.1"/><rect x="213.7" y="254.4" width="1.1" height="1.1"/><rect x="221.9" y="232.0" width="1.1" height="1.1"/><rect x="219.6" y="243.0" width="1.1" height="1.1"/><rect x="225.6" y="230.6" width="1.1" height="1.1"/><rect x="219.0" y="238.2" width="1.1" height="1.1"/><rect x="221.4" y="231.4" width="1.1" height="1.1"/><rect x="210.4" y="244.3" width="1.1" height="1.1"/><rect x="217.5" y="244.2" width="1.1" height="1.1"/><rect x="224.2" y="232.0" width="1.1" height="1.1"/><rect x="211.5" y="244.9" width="1.1" height="1.1"/><rect x="215.9" y="239.8" width="1.1" height="1.1"/><rect x="225.1" y="234.4" width="1.1" height="1.1"/><rect x="219.4" y="250.6" width="1.1" height="1.1"/><rect x="221.0" y="235.9" width="1.1" height="1.1"/><rect x="214.5" y="252.6" width="1.1" height="1.1"/><rect x="212.7" y="248.9" width="1.1" height="1.1"/><rect x="216.7" y="239.1" width="1.1" height="1.1"/><rect x="212.5" y="239.4" width="1.1" height="1.1"/><rect x="209.3" y="258.0" width="1.1" height="1.1"/><rect x="219.4" y="251.5" width="1.1" height="1.1"/><rect x="219.0" y="249.7" width="1.1" height="1.1"/><rect x="216.3" y="251.1" width="1.1" height="1.1"/><rect x="200.8" y="259.6" width="1.1" height="1.1"/><rect x="217.3" y="240.7" width="1.1" height="1.1"/><rect x="214.4" y="241.0" width="1.1" height="1.1"/><rect x="222.8" y="246.4" width="1.1" height="1.1"/><rect x="224.3" y="230.9" width="1.1" height="1.1"/><rect x="222.4" y="249.0" width="1.1" height="1.1"/><rect x="212.7" y="249.1" width="1.1" height="1.1"/><rect x="222.2" y="246.2" width="1.1" height="1.1"/><rect x="216.6" y="233.4" width="1.1" height="1.1"/><rect x="218.1" y="243.4" width="1.1" height="1.1"/></g>
<g fill="#e81020"><rect x="236.4" y="246.3" width="1.1" height="1.1"/><rect x="244.4" y="255.9" width="1.1" height="1.1"/><rect x="231.3" y="258.6" width="1.1" height="1.1"/><rect x="233.2" y="255.9" width="1.1" height="1.1"/><rect x="231.0" y="257.1" width="1.1" height="1.1"/><rect x="240.1" y="266.5" width="1.1" height="1.1"/><rect x="242.6" y="260.8" width="1.1" height="1.1"/><rect x="229.1" y="245.4" width="1.1" height="1.1"/><rect x="235.7" y="264.3" width="1.1" height="1.1"/><rect x="231.4" y="264.1" width="1.1" height="1.1"/><rect x="242.8" y="258.7" width="1.1" height="1.1"/><rect x="240.2" y="260.3" width="1.1" height="1.1"/><rect x="246.0" y="254.5" width="1.1" height="1.1"/><rect x="231.4" y="262.0" width="1.1" height="1.1"/><rect x="236.4" y="254.7" width="1.1" height="1.1"/><rect x="237.5" y="257.7" width="1.1" height="1.1"/><rect x="229.4" y="265.3" width="1.1" height="1.1"/><rect x="237.4" y="259.3" width="1.1" height="1.1"/><rect x="231.2" y="258.8" width="1.1" height="1.1"/><rect x="229.8" y="269.6" width="1.1" height="1.1"/><rect x="254.3" y="256.7" width="1.1" height="1.1"/><rect x="232.0" y="266.5" width="1.1" height="1.1"/><rect x="238.9" y="260.6" width="1.1" height="1.1"/><rect x="238.1" y="254.7" width="1.1" height="1.1"/><rect x="247.9" y="255.3" width="1.1" height="1.1"/><rect x="240.1" y="262.9" width="1.1" height="1.1"/><rect x="230.2" y="252.0" width="1.1" height="1.1"/><rect x="232.5" y="249.8" width="1.1" height="1.1"/><rect x="232.9" y="269.2" width="1.1" height="1.1"/><rect x="229.3" y="265.0" width="1.1" height="1.1"/><rect x="237.3" y="260.3" width="1.1" height="1.1"/><rect x="253.9" y="247.5" width="1.1" height="1.1"/><rect x="242.2" y="266.8" width="1.1" height="1.1"/><rect x="247.6" y="247.3" width="1.1" height="1.1"/><rect x="237.6" y="265.3" width="1.1" height="1.1"/><rect x="231.6" y="256.8" width="1.1" height="1.1"/><rect x="236.4" y="258.9" width="1.1" height="1.1"/><rect x="231.1" y="255.6" width="1.1" height="1.1"/><rect x="241.0" y="252.2" width="1.1" height="1.1"/><rect x="247.0" y="255.5" width="1.1" height="1.1"/><rect x="235.7" y="262.9" width="1.1" height="1.1"/><rect x="233.5" y="243.2" width="1.1" height="1.1"/><rect x="231.0" y="247.9" width="1.1" height="1.1"/><rect x="236.0" y="263.9" width="1.1" height="1.1"/><rect x="236.4" y="260.7" width="1.1" height="1.1"/><rect x="228.0" y="249.2" width="1.1" height="1.1"/><rect x="239.1" y="251.2" width="1.1" height="1.1"/><rect x="229.9" y="258.0" width="1.1" height="1.1"/><rect x="239.2" y="259.2" width="1.1" height="1.1"/><rect x="229.9" y="260.4" width="1.1" height="1.1"/><rect x="228.4" y="260.1" width="1.1" height="1.1"/><rect x="237.1" y="263.8" width="1.1" height="1.1"/><rect x="233.0" y="244.7" width="1.1" height="1.1"/><rect x="235.9" y="260.1" width="1.1" height="1.1"/><rect x="254.4" y="254.4" width="1.1" height="1.1"/><rect x="233.4" y="253.7" width="1.1" height="1.1"/><rect x="243.7" y="256.0" width="1.1" height="1.1"/><rect x="243.0" y="267.6" width="1.1" height="1.1"/><rect x="237.4" y="255.9" width="1.1" height="1.1"/><rect x="239.2" y="258.5" width="1.1" height="1.1"/><rect x="241.6" y="257.8" width="1.1" height="1.1"/><rect x="240.3" y="259.5" width="1.1" height="1.1"/><rect x="230.0" y="269.5" width="1.1" height="1.1"/><rect x="237.0" y="265.1" width="1.1" height="1.1"/><rect x="230.5" y="259.5" width="1.1" height="1.1"/><rect x="228.7" y="258.8" width="1.1" height="1.1"/><rect x="227.8" y="252.0" width="1.1" height="1.1"/><rect x="233.4" y="261.1" width="1.1" height="1.1"/><rect x="228.4" y="249.1" width="1.1" height="1.1"/><rect x="235.0" y="252.6" width="1.1" height="1.1"/><rect x="227.8" y="259.1" width="1.1" height="1.1"/><rect x="229.2" y="252.9" width="1.1" height="1.1"/><rect x="228.4" y="247.5" width="1.1" height="1.1"/><rect x="259.0" y="257.3" width="1.1" height="1.1"/><rect x="245.5" y="250.6" width="1.1" height="1.1"/><rect x="240.6" y="262.4" width="1.1" height="1.1"/><rect x="240.7" y="259.8" width="1.1" height="1.1"/><rect x="232.8" y="248.4" width="1.1" height="1.1"/><rect x="244.7" y="261.1" width="1.1" height="1.1"/><rect x="232.3" y="263.5" width="1.1" height="1.1"/><rect x="248.2" y="259.7" width="1.1" height="1.1"/><rect x="231.1" y="256.7" width="1.1" height="1.1"/><rect x="229.2" y="255.0" width="1.1" height="1.1"/><rect x="248.0" y="259.5" width="1.1" height="1.1"/><rect x="232.8" y="258.7" width="1.1" height="1.1"/><rect x="238.2" y="256.1" width="1.1" height="1.1"/><rect x="232.7" y="249.5" width="1.1" height="1.1"/><rect x="228.1" y="254.5" width="1.1" height="1.1"/><rect x="233.7" y="262.6" width="1.1" height="1.1"/><rect x="239.3" y="260.8" width="1.1" height="1.1"/><rect x="234.4" y="260.7" width="1.1" height="1.1"/><rect x="228.5" y="259.3" width="1.1" height="1.1"/><rect x="238.5" y="251.6" width="1.1" height="1.1"/><rect x="237.2" y="258.7" width="1.1" height="1.1"/><rect x="235.9" y="265.5" width="1.1" height="1.1"/><rect x="233.3" y="258.1" width="1.1" height="1.1"/><rect x="245.6" y="240.8" width="1.1" height="1.1"/><rect x="237.3" y="252.4" width="1.1" height="1.1"/><rect x="244.9" y="244.1" width="1.1" height="1.1"/><rect x="233.5" y="251.4" width="1.1" height="1.1"/><rect x="229.5" y="255.0" width="1.1" height="1.1"/><rect x="235.0" y="251.6" width="1.1" height="1.1"/><rect x="245.0" y="245.8" width="1.1" height="1.1"/><rect x="242.3" y="256.3" width="1.1" height="1.1"/><rect x="236.4" y="267.8" width="1.1" height="1.1"/><rect x="245.6" y="251.8" width="1.1" height="1.1"/><rect x="230.1" y="261.5" width="1.1" height="1.1"/><rect x="238.5" y="259.8" width="1.1" height="1.1"/><rect x="251.6" y="253.7" width="1.1" height="1.1"/><rect x="229.4" y="263.6" width="1.1" height="1.1"/><rect x="231.6" y="255.0" width="1.1" height="1.1"/><rect x="233.2" y="252.4" width="1.1" height="1.1"/><rect x="240.5" y="253.0" width="1.1" height="1.1"/><rect x="245.1" y="260.0" width="1.1" height="1.1"/><rect x="246.0" y="265.4" width="1.1" height="1.1"/><rect x="230.5" y="252.8" width="1.1" height="1.1"/><rect x="240.7" y="258.5" width="1.1" height="1.1"/><rect x="233.4" y="251.7" width="1.1" height="1.1"/><rect x="238.9" y="251.1" width="1.1" height="1.1"/><rect x="228.4" y="244.2" width="1.1" height="1.1"/><rect x="235.4" y="260.8" width="1.1" height="1.1"/><rect x="233.2" y="253.8" width="1.1" height="1.1"/><rect x="235.9" y="256.5" width="1.1" height="1.1"/><rect x="240.8" y="239.0" width="1.1" height="1.1"/><rect x="233.4" y="260.9" width="1.1" height="1.1"/><rect x="245.2" y="247.4" width="1.1" height="1.1"/><rect x="236.8" y="249.1" width="1.1" height="1.1"/><rect x="235.3" y="261.5" width="1.1" height="1.1"/><rect x="232.0" y="260.6" width="1.1" height="1.1"/><rect x="237.8" y="259.3" width="1.1" height="1.1"/><rect x="239.0" y="259.5" width="1.1" height="1.1"/><rect x="252.4" y="261.9" width="1.1" height="1.1"/><rect x="227.8" y="250.3" width="1.1" height="1.1"/><rect x="242.4" y="244.0" width="1.1" height="1.1"/><rect x="247.7" y="252.3" width="1.1" height="1.1"/><rect x="244.4" y="256.7" width="1.1" height="1.1"/><rect x="242.9" y="257.8" width="1.1" height="1.1"/><rect x="230.8" y="261.1" width="1.1" height="1.1"/><rect x="238.8" y="250.3" width="1.1" height="1.1"/><rect x="232.5" y="262.5" width="1.1" height="1.1"/><rect x="231.3" y="250.1" width="1.1" height="1.1"/><rect x="238.8" y="262.6" width="1.1" height="1.1"/><rect x="235.9" y="250.8" width="1.1" height="1.1"/><rect x="243.0" y="266.3" width="1.1" height="1.1"/><rect x="245.4" y="258.2" width="1.1" height="1.1"/><rect x="237.2" y="243.9" width="1.1" height="1.1"/><rect x="228.5" y="255.6" width="1.1" height="1.1"/><rect x="230.4" y="264.7" width="1.1" height="1.1"/><rect x="238.6" y="253.1" width="1.1" height="1.1"/><rect x="237.9" y="269.1" width="1.1" height="1.1"/><rect x="232.4" y="256.8" width="1.1" height="1.1"/><rect x="231.6" y="256.0" width="1.1" height="1.1"/><rect x="235.0" y="262.6" width="1.1" height="1.1"/><rect x="240.9" y="254.2" width="1.1" height="1.1"/><rect x="243.5" y="257.4" width="1.1" height="1.1"/><rect x="244.7" y="252.3" width="1.1" height="1.1"/><rect x="231.2" y="249.1" width="1.1" height="1.1"/><rect x="235.7" y="240.3" width="1.1" height="1.1"/><rect x="236.0" y="268.4" width="1.1" height="1.1"/><rect x="235.3" y="246.7" width="1.1" height="1.1"/><rect x="246.6" y="263.4" width="1.1" height="1.1"/><rect x="228.9" y="252.6" width="1.1" height="1.1"/><rect x="231.6" y="252.7" width="1.1" height="1.1"/><rect x="249.4" y="263.1" width="1.1" height="1.1"/><rect x="235.5" y="249.5" width="1.1" height="1.1"/><rect x="243.0" y="258.9" width="1.1" height="1.1"/><rect x="237.2" y="261.7" width="1.1" height="1.1"/><rect x="231.3" y="265.1" width="1.1" height="1.1"/><rect x="232.6" y="252.2" width="1.1" height="1.1"/><rect x="249.9" y="248.8" width="1.1" height="1.1"/><rect x="242.1" y="249.3" width="1.1" height="1.1"/><rect x="230.8" y="260.6" width="1.1" height="1.1"/><rect x="235.8" y="257.6" width="1.1" height="1.1"/><rect x="246.0" y="254.8" width="1.1" height="1.1"/><rect x="237.0" y="269.2" width="1.1" height="1.1"/><rect x="230.2" y="255.1" width="1.1" height="1.1"/><rect x="232.1" y="265.3" width="1.1" height="1.1"/><rect x="232.5" y="251.4" width="1.1" height="1.1"/><rect x="231.0" y="264.3" width="1.1" height="1.1"/><rect x="236.2" y="247.1" width="1.1" height="1.1"/><rect x="232.7" y="259.8" width="1.1" height="1.1"/><rect x="237.7" y="257.7" width="1.1" height="1.1"/><rect x="235.4" y="253.8" width="1.1" height="1.1"/><rect x="239.6" y="250.0" width="1.1" height="1.1"/><rect x="234.5" y="253.4" width="1.1" height="1.1"/><rect x="239.4" y="247.9" width="1.1" height="1.1"/><rect x="228.8" y="252.7" width="1.1" height="1.1"/><rect x="243.5" y="259.0" width="1.1" height="1.1"/><rect x="232.4" y="263.1" width="1.1" height="1.1"/><rect x="227.9" y="253.5" width="1.1" height="1.1"/><rect x="244.0" y="262.4" width="1.1" height="1.1"/><rect x="246.1" y="265.7" width="1.1" height="1.1"/><rect x="235.7" y="258.1" width="1.1" height="1.1"/><rect x="240.1" y="262.4" width="1.1" height="1.1"/><rect x="228.0" y="262.1" width="1.1" height="1.1"/><rect x="228.3" y="252.0" width="1.1" height="1.1"/><rect x="239.3" y="262.3" width="1.1" height="1.1"/><rect x="241.4" y="255.0" width="1.1" height="1.1"/><rect x="232.2" y="267.4" width="1.1" height="1.1"/><rect x="237.4" y="254.6" width="1.1" height="1.1"/><rect x="240.5" y="265.9" width="1.1" height="1.1"/><rect x="230.1" y="253.7" width="1.1" height="1.1"/><rect x="246.3" y="255.8" width="1.1" height="1.1"/><rect x="238.2" y="254.9" width="1.1" height="1.1"/><rect x="232.8" y="261.9" width="1.1" height="1.1"/><rect x="241.7" y="257.5" width="1.1" height="1.1"/><rect x="233.8" y="251.3" width="1.1" height="1.1"/><rect x="237.2" y="259.0" width="1.1" height="1.1"/><rect x="229.3" y="255.4" width="1.1" height="1.1"/><rect x="229.6" y="258.8" width="1.1" height="1.1"/><rect x="238.3" y="252.2" width="1.1" height="1.1"/><rect x="232.2" y="265.5" width="1.1" height="1.1"/><rect x="242.1" y="250.9" width="1.1" height="1.1"/><rect x="239.3" y="262.8" width="1.1" height="1.1"/><rect x="228.5" y="260.8" width="1.1" height="1.1"/><rect x="239.7" y="261.7" width="1.1" height="1.1"/><rect x="229.7" y="255.7" width="1.1" height="1.1"/><rect x="239.9" y="263.3" width="1.1" height="1.1"/><rect x="239.2" y="255.1" width="1.1" height="1.1"/><rect x="229.9" y="246.7" width="1.1" height="1.1"/><rect x="236.8" y="256.6" width="1.1" height="1.1"/><rect x="229.2" y="259.7" width="1.1" height="1.1"/><rect x="247.1" y="257.5" width="1.1" height="1.1"/><rect x="232.0" y="270.1" width="1.1" height="1.1"/><rect x="233.6" y="253.3" width="1.1" height="1.1"/><rect x="243.2" y="265.2" width="1.1" height="1.1"/><rect x="230.4" y="260.7" width="1.1" height="1.1"/><rect x="229.2" y="256.2" width="1.1" height="1.1"/><rect x="236.6" y="251.4" width="1.1" height="1.1"/><rect x="232.1" y="258.1" width="1.1" height="1.1"/><rect x="245.2" y="251.6" width="1.1" height="1.1"/><rect x="233.4" y="249.7" width="1.1" height="1.1"/><rect x="242.4" y="248.1" width="1.1" height="1.1"/><rect x="235.8" y="267.9" width="1.1" height="1.1"/><rect x="229.6" y="262.6" width="1.1" height="1.1"/><rect x="251.2" y="254.4" width="1.1" height="1.1"/><rect x="246.1" y="258.5" width="1.1" height="1.1"/><rect x="228.0" y="251.5" width="1.1" height="1.1"/><rect x="237.7" y="259.9" width="1.1" height="1.1"/><rect x="233.7" y="253.4" width="1.1" height="1.1"/><rect x="244.0" y="255.9" width="1.1" height="1.1"/><rect x="250.5" y="252.0" width="1.1" height="1.1"/><rect x="232.0" y="253.2" width="1.1" height="1.1"/><rect x="236.2" y="260.5" width="1.1" height="1.1"/><rect x="230.6" y="244.0" width="1.1" height="1.1"/><rect x="233.6" y="266.2" width="1.1" height="1.1"/><rect x="230.7" y="261.9" width="1.1" height="1.1"/><rect x="233.3" y="243.4" width="1.1" height="1.1"/><rect x="232.1" y="259.6" width="1.1" height="1.1"/><rect x="234.3" y="254.5" width="1.1" height="1.1"/><rect x="230.6" y="252.9" width="1.1" height="1.1"/><rect x="231.2" y="255.8" width="1.1" height="1.1"/><rect x="253.6" y="256.2" width="1.1" height="1.1"/><rect x="234.5" y="251.1" width="1.1" height="1.1"/><rect x="231.9" y="253.7" width="1.1" height="1.1"/><rect x="233.4" y="265.4" width="1.1" height="1.1"/><rect x="229.0" y="245.8" width="1.1" height="1.1"/><rect x="236.0" y="264.0" width="1.1" height="1.1"/><rect x="230.8" y="251.3" width="1.1" height="1.1"/><rect x="229.0" y="261.0" width="1.1" height="1.1"/><rect x="230.3" y="262.1" width="1.1" height="1.1"/><rect x="237.0" y="255.3" width="1.1" height="1.1"/><rect x="230.7" y="257.1" width="1.1" height="1.1"/><rect x="250.8" y="255.5" width="1.1" height="1.1"/><rect x="242.6" y="267.6" width="1.1" height="1.1"/><rect x="244.4" y="269.8" width="1.1" height="1.1"/><rect x="236.3" y="253.7" width="1.1" height="1.1"/><rect x="238.0" y="255.8" width="1.1" height="1.1"/><rect x="234.2" y="250.6" width="1.1" height="1.1"/><rect x="234.3" y="260.8" width="1.1" height="1.1"/><rect x="246.8" y="257.1" width="1.1" height="1.1"/><rect x="241.9" y="257.1" width="1.1" height="1.1"/><rect x="238.3" y="256.3" width="1.1" height="1.1"/><rect x="233.7" y="256.8" width="1.1" height="1.1"/><rect x="238.1" y="264.3" width="1.1" height="1.1"/><rect x="230.4" y="257.3" width="1.1" height="1.1"/><rect x="228.9" y="258.3" width="1.1" height="1.1"/><rect x="233.8" y="257.4" width="1.1" height="1.1"/><rect x="233.0" y="247.6" width="1.1" height="1.1"/><rect x="236.2" y="270.3" width="1.1" height="1.1"/><rect x="229.6" y="246.9" width="1.1" height="1.1"/><rect x="242.3" y="254.9" width="1.1" height="1.1"/><rect x="260.4" y="255.7" width="1.1" height="1.1"/><rect x="234.2" y="260.2" width="1.1" height="1.1"/><rect x="241.1" y="262.0" width="1.1" height="1.1"/><rect x="229.0" y="242.7" width="1.1" height="1.1"/><rect x="240.0" y="258.7" width="1.1" height="1.1"/><rect x="235.0" y="249.7" width="1.1" height="1.1"/><rect x="234.6" y="260.8" width="1.1" height="1.1"/><rect x="248.7" y="242.9" width="1.1" height="1.1"/><rect x="230.4" y="259.2" width="1.1" height="1.1"/><rect x="233.1" y="240.3" width="1.1" height="1.1"/><rect x="227.9" y="247.5" width="1.1" height="1.1"/><rect x="234.7" y="256.6" width="1.1" height="1.1"/><rect x="230.5" y="262.1" width="1.1" height="1.1"/><rect x="233.6" y="263.5" width="1.1" height="1.1"/><rect x="241.1" y="260.3" width="1.1" height="1.1"/><rect x="242.1" y="252.7" width="1.1" height="1.1"/><rect x="237.6" y="259.4" width="1.1" height="1.1"/><rect x="238.6" y="256.8" width="1.1" height="1.1"/><rect x="233.7" y="253.3" width="1.1" height="1.1"/><rect x="228.6" y="265.2" width="1.1" height="1.1"/><rect x="231.3" y="258.3" width="1.1" height="1.1"/><rect x="243.9" y="258.2" width="1.1" height="1.1"/><rect x="240.2" y="263.4" width="1.1" height="1.1"/><rect x="232.8" y="253.5" width="1.1" height="1.1"/><rect x="238.5" y="256.7" width="1.1" height="1.1"/><rect x="242.4" y="248.2" width="1.1" height="1.1"/><rect x="237.9" y="250.6" width="1.1" height="1.1"/><rect x="247.2" y="246.8" width="1.1" height="1.1"/><rect x="232.3" y="248.7" width="1.1" height="1.1"/><rect x="229.5" y="249.6" width="1.1" height="1.1"/><rect x="228.1" y="256.2" width="1.1" height="1.1"/><rect x="232.8" y="261.2" width="1.1" height="1.1"/><rect x="244.1" y="253.0" width="1.1" height="1.1"/><rect x="237.3" y="258.0" width="1.1" height="1.1"/><rect x="251.5" y="252.3" width="1.1" height="1.1"/><rect x="247.6" y="255.0" width="1.1" height="1.1"/><rect x="241.8" y="254.1" width="1.1" height="1.1"/><rect x="232.8" y="269.8" width="1.1" height="1.1"/><rect x="229.5" y="258.9" width="1.1" height="1.1"/><rect x="233.1" y="246.2" width="1.1" height="1.1"/><rect x="236.7" y="259.9" width="1.1" height="1.1"/><rect x="233.6" y="250.5" width="1.1" height="1.1"/><rect x="231.4" y="256.4" width="1.1" height="1.1"/><rect x="229.5" y="262.5" width="1.1" height="1.1"/><rect x="228.8" y="258.6" width="1.1" height="1.1"/><rect x="243.3" y="249.5" width="1.1" height="1.1"/><rect x="231.1" y="245.5" width="1.1" height="1.1"/><rect x="230.5" y="252.4" width="1.1" height="1.1"/><rect x="236.8" y="262.2" width="1.1" height="1.1"/><rect x="235.3" y="251.0" width="1.1" height="1.1"/><rect x="235.3" y="257.8" width="1.1" height="1.1"/><rect x="228.1" y="255.5" width="1.1" height="1.1"/><rect x="237.9" y="254.6" width="1.1" height="1.1"/><rect x="254.9" y="267.2" width="1.1" height="1.1"/><rect x="239.9" y="256.9" width="1.1" height="1.1"/><rect x="242.9" y="249.1" width="1.1" height="1.1"/><rect x="233.4" y="263.7" width="1.1" height="1.1"/><rect x="236.7" y="252.8" width="1.1" height="1.1"/><rect x="244.3" y="229.2" width="1.1" height="1.1"/><rect x="248.9" y="245.6" width="1.1" height="1.1"/><rect x="267.7" y="239.9" width="1.1" height="1.1"/><rect x="240.3" y="238.0" width="1.1" height="1.1"/><rect x="254.0" y="242.0" width="1.1" height="1.1"/><rect x="256.6" y="249.9" width="1.1" height="1.1"/><rect x="253.4" y="259.4" width="1.1" height="1.1"/><rect x="249.6" y="258.6" width="1.1" height="1.1"/><rect x="265.0" y="253.0" width="1.1" height="1.1"/><rect x="261.9" y="253.2" width="1.1" height="1.1"/><rect x="254.3" y="240.2" width="1.1" height="1.1"/><rect x="251.5" y="259.5" width="1.1" height="1.1"/><rect x="256.2" y="252.9" width="1.1" height="1.1"/><rect x="266.4" y="242.8" width="1.1" height="1.1"/><rect x="255.5" y="248.5" width="1.1" height="1.1"/><rect x="260.0" y="242.2" width="1.1" height="1.1"/><rect x="258.4" y="253.1" width="1.1" height="1.1"/><rect x="251.1" y="257.3" width="1.1" height="1.1"/><rect x="232.6" y="231.0" width="1.1" height="1.1"/><rect x="241.5" y="238.9" width="1.1" height="1.1"/><rect x="234.2" y="228.6" width="1.1" height="1.1"/><rect x="256.1" y="255.8" width="1.1" height="1.1"/><rect x="229.8" y="228.3" width="1.1" height="1.1"/><rect x="255.0" y="258.3" width="1.1" height="1.1"/><rect x="241.5" y="231.7" width="1.1" height="1.1"/><rect x="259.6" y="238.3" width="1.1" height="1.1"/><rect x="252.1" y="235.8" width="1.1" height="1.1"/><rect x="259.0" y="242.5" width="1.1" height="1.1"/><rect x="244.0" y="231.4" width="1.1" height="1.1"/><rect x="253.3" y="258.6" width="1.1" height="1.1"/><rect x="253.6" y="237.5" width="1.1" height="1.1"/><rect x="246.4" y="249.6" width="1.1" height="1.1"/><rect x="232.5" y="228.8" width="1.1" height="1.1"/><rect x="248.8" y="251.4" width="1.1" height="1.1"/><rect x="257.8" y="238.9" width="1.1" height="1.1"/><rect x="267.4" y="242.2" width="1.1" height="1.1"/><rect x="235.6" y="231.2" width="1.1" height="1.1"/><rect x="254.0" y="235.7" width="1.1" height="1.1"/><rect x="259.1" y="239.4" width="1.1" height="1.1"/><rect x="262.5" y="247.8" width="1.1" height="1.1"/><rect x="251.1" y="236.6" width="1.1" height="1.1"/><rect x="262.7" y="244.2" width="1.1" height="1.1"/><rect x="248.0" y="236.9" width="1.1" height="1.1"/><rect x="261.8" y="249.2" width="1.1" height="1.1"/><rect x="257.1" y="253.7" width="1.1" height="1.1"/><rect x="247.3" y="244.8" width="1.1" height="1.1"/><rect x="265.1" y="250.8" width="1.1" height="1.1"/><rect x="252.9" y="253.2" width="1.1" height="1.1"/><rect x="260.1" y="239.0" width="1.1" height="1.1"/><rect x="260.0" y="235.1" width="1.1" height="1.1"/><rect x="258.5" y="239.1" width="1.1" height="1.1"/><rect x="230.5" y="229.4" width="1.1" height="1.1"/><rect x="248.1" y="245.0" width="1.1" height="1.1"/><rect x="260.2" y="253.3" width="1.1" height="1.1"/><rect x="262.9" y="245.7" width="1.1" height="1.1"/><rect x="251.1" y="263.3" width="1.1" height="1.1"/><rect x="256.2" y="244.5" width="1.1" height="1.1"/><rect x="245.0" y="233.2" width="1.1" height="1.1"/><rect x="256.1" y="237.7" width="1.1" height="1.1"/><rect x="243.5" y="235.4" width="1.1" height="1.1"/><rect x="248.1" y="238.0" width="1.1" height="1.1"/><rect x="235.0" y="232.8" width="1.1" height="1.1"/><rect x="234.9" y="232.3" width="1.1" height="1.1"/><rect x="246.3" y="230.9" width="1.1" height="1.1"/><rect x="251.7" y="246.1" width="1.1" height="1.1"/><rect x="257.0" y="246.7" width="1.1" height="1.1"/><rect x="255.6" y="261.9" width="1.1" height="1.1"/><rect x="246.7" y="234.2" width="1.1" height="1.1"/><rect x="247.5" y="238.0" width="1.1" height="1.1"/><rect x="265.3" y="244.1" width="1.1" height="1.1"/><rect x="262.6" y="246.8" width="1.1" height="1.1"/><rect x="260.9" y="254.1" width="1.1" height="1.1"/><rect x="264.8" y="240.6" width="1.1" height="1.1"/><rect x="231.5" y="230.2" width="1.1" height="1.1"/><rect x="243.3" y="229.9" width="1.1" height="1.1"/><rect x="254.5" y="259.7" width="1.1" height="1.1"/><rect x="259.5" y="237.6" width="1.1" height="1.1"/><rect x="259.9" y="256.6" width="1.1" height="1.1"/><rect x="253.4" y="260.0" width="1.1" height="1.1"/><rect x="250.2" y="242.0" width="1.1" height="1.1"/><rect x="248.7" y="241.5" width="1.1" height="1.1"/><rect x="256.6" y="247.7" width="1.1" height="1.1"/><rect x="251.1" y="245.6" width="1.1" height="1.1"/><rect x="250.5" y="255.7" width="1.1" height="1.1"/><rect x="236.8" y="229.8" width="1.1" height="1.1"/></g>
<path d="M181.60,233.40 H244.80 V288.10 H181.60 Z" fill="none" stroke="#151515" stroke-width="0.95"/>
<line x1="181.60" y1="233.40" x2="217.00" y2="196.80" stroke="#151515" stroke-width="0.95"/>
<line x1="244.80" y1="233.40" x2="280.20" y2="196.80" stroke="#151515" stroke-width="0.95"/>
<circle cx="218.8" cy="186.6" r="1.0" fill="#b01030"/>
<text x="224.60" y="188.20" font-size="4.8" text-anchor="start" font-weight="bold" fill="#111" font-family='"Liberation Serif", serif' textLength="10.2" lengthAdjust="spacingAndGlyphs"  stroke="#111" stroke-width="0.250">High</text>
<circle cx="249.2" cy="186.6" r="0.9" fill="#b8d8a8"/>
<text x="257.40" y="188.20" font-size="4.8" text-anchor="start" font-weight="bold" fill="#111" font-family='"Liberation Serif", serif' textLength="8.3" lengthAdjust="spacingAndGlyphs"  stroke="#111" stroke-width="0.250">Low</text>
<line x1="180.70" y1="288.10" x2="181.60" y2="288.10" stroke="#333" stroke-width="0.6"/>
<text x="178.00" y="289.00" font-size="2.6" text-anchor="middle" font-weight="normal" fill="#333"  stroke="#333" stroke-width="0.300">0</text>
<line x1="180.70" y1="274.43" x2="181.60" y2="274.43" stroke="#333" stroke-width="0.6"/>
<text x="178.00" y="275.32" font-size="2.6" text-anchor="middle" font-weight="normal" fill="#333"  stroke="#333" stroke-width="0.300">2</text>
<line x1="180.70" y1="260.75" x2="181.60" y2="260.75" stroke="#333" stroke-width="0.6"/>
<text x="178.00" y="261.65" font-size="2.6" text-anchor="middle" font-weight="normal" fill="#333"  stroke="#333" stroke-width="0.300">4</text>
<line x1="180.70" y1="247.08" x2="181.60" y2="247.08" stroke="#333" stroke-width="0.6"/>
<text x="178.00" y="247.98" font-size="2.6" text-anchor="middle" font-weight="normal" fill="#333"  stroke="#333" stroke-width="0.300">6</text>
<line x1="180.70" y1="233.40" x2="181.60" y2="233.40" stroke="#333" stroke-width="0.6"/>
<text x="178.00" y="234.30" font-size="2.6" text-anchor="middle" font-weight="normal" fill="#333"  stroke="#333" stroke-width="0.300">8</text>
<text x="181.60" y="293.60" font-size="2.5" text-anchor="middle" font-weight="normal" fill="#333"  stroke="#333" stroke-width="0.300">-0.6</text>
<text x="192.13" y="293.60" font-size="2.5" text-anchor="middle" font-weight="normal" fill="#333"  stroke="#333" stroke-width="0.300">-0.4</text>
<text x="202.67" y="293.60" font-size="2.5" text-anchor="middle" font-weight="normal" fill="#333"  stroke="#333" stroke-width="0.300">-0.2</text>
<text x="213.20" y="293.60" font-size="2.5" text-anchor="middle" font-weight="normal" fill="#333"  stroke="#333" stroke-width="0.300">0.0</text>
<text x="223.73" y="293.60" font-size="2.5" text-anchor="middle" font-weight="normal" fill="#333"  stroke="#333" stroke-width="0.300">0.2</text>
<text x="234.27" y="293.60" font-size="2.5" text-anchor="middle" font-weight="normal" fill="#333"  stroke="#333" stroke-width="0.300">0.4</text>
<text x="244.80" y="293.60" font-size="2.5" text-anchor="middle" font-weight="normal" fill="#333"  stroke="#333" stroke-width="0.300">0.6</text>
<text x="250.80" y="289.10" font-size="2.5" text-anchor="middle" font-weight="normal" fill="#333"  stroke="#333" stroke-width="0.300">-0.6</text>
<text x="256.70" y="283.00" font-size="2.5" text-anchor="middle" font-weight="normal" fill="#333"  stroke="#333" stroke-width="0.300">-0.4</text>
<text x="262.60" y="276.90" font-size="2.5" text-anchor="middle" font-weight="normal" fill="#333"  stroke="#333" stroke-width="0.300">-0.2</text>
<text x="268.50" y="270.80" font-size="2.5" text-anchor="middle" font-weight="normal" fill="#333"  stroke="#333" stroke-width="0.300">0.0</text>
<text x="274.40" y="264.70" font-size="2.5" text-anchor="middle" font-weight="normal" fill="#333"  stroke="#333" stroke-width="0.300">0.2</text>
<text x="280.30" y="258.60" font-size="2.5" text-anchor="middle" font-weight="normal" fill="#333"  stroke="#333" stroke-width="0.300">0.4</text>
<text x="286.20" y="252.50" font-size="2.5" text-anchor="middle" font-weight="normal" fill="#333"  stroke="#333" stroke-width="0.300">0.6</text>
<text x="211.70" y="298.90" font-size="2.8" text-anchor="middle" font-weight="normal" fill="#333"  stroke="#333" stroke-width="0.300">PC1</text>
<text x="171.60" y="261.95" font-size="3.0" text-anchor="middle" font-weight="normal" fill="#333" transform="rotate(-90 171.60 261.95)"  stroke="#333" stroke-width="0.300">PC3</text>
<text x="295.00" y="251.50" font-size="3.0" text-anchor="middle" font-weight="normal" fill="#333" transform="rotate(-90 295.00 251.50)"  stroke="#333" stroke-width="0.300">PC2</text>
<text x="0.20" y="318.00" font-size="8.2" text-anchor="start" font-weight="bold" fill="#111"  stroke="#111" stroke-width="0.400">G</text>
<line x1="29.20" y1="314.20" x2="29.20" y2="370.40" stroke="#444" stroke-width="0.7"/>
<line x1="27.60" y1="315.00" x2="29.20" y2="315.00" stroke="#444" stroke-width="0.6"/>
<text x="27.80" y="315.85" font-size="2.4" text-anchor="end" font-weight="bold" fill="#444" textLength="3.8" lengthAdjust="spacingAndGlyphs"  stroke="#444" stroke-width="0.150">1.00</text>
<line x1="27.60" y1="328.12" x2="29.20" y2="328.12" stroke="#444" stroke-width="0.6"/>
<text x="27.80" y="328.98" font-size="2.4" text-anchor="end" font-weight="bold" fill="#444" textLength="3.8" lengthAdjust="spacingAndGlyphs"  stroke="#444" stroke-width="0.150">0.75</text>
<line x1="27.60" y1="341.25" x2="29.20" y2="341.25" stroke="#444" stroke-width="0.6"/>
<text x="27.80" y="342.10" font-size="2.4" text-anchor="end" font-weight="bold" fill="#444" textLength="3.8" lengthAdjust="spacingAndGlyphs"  stroke="#444" stroke-width="0.150">0.50</text>
<line x1="27.60" y1="354.38" x2="29.20" y2="354.38" stroke="#444" stroke-width="0.6"/>
<text x="27.80" y="355.23" font-size="2.4" text-anchor="end" font-weight="bold" fill="#444" textLength="3.8" lengthAdjust="spacingAndGlyphs"  stroke="#444" stroke-width="0.150">0.25</text>
<line x1="27.60" y1="367.50" x2="29.20" y2="367.50" stroke="#444" stroke-width="0.6"/>
<text x="27.80" y="368.35" font-size="2.4" text-anchor="end" font-weight="bold" fill="#444" textLength="3.8" lengthAdjust="spacingAndGlyphs"  stroke="#444" stroke-width="0.150">0.00</text>
<line x1="29.20" y1="370.40" x2="136.00" y2="370.40" stroke="#444" stroke-width="0.8"/>
<line x1="33.90" y1="370.40" x2="33.90" y2="371.60" stroke="#444" stroke-width="0.6"/>
<text x="33.90" y="373.30" font-size="2.2" text-anchor="middle" font-weight="bold" fill="#555"  stroke="#555" stroke-width="0.300">0</text>
<line x1="58.40" y1="370.40" x2="58.40" y2="371.60" stroke="#444" stroke-width="0.6"/>
<text x="58.40" y="373.30" font-size="2.2" text-anchor="middle" font-weight="bold" fill="#555"  stroke="#555" stroke-width="0.300">1000</text>
<line x1="82.90" y1="370.40" x2="82.90" y2="371.60" stroke="#444" stroke-width="0.6"/>
<text x="82.90" y="373.30" font-size="2.2" text-anchor="middle" font-weight="bold" fill="#555"  stroke="#555" stroke-width="0.300">2000</text>
<line x1="107.40" y1="370.40" x2="107.40" y2="371.60" stroke="#444" stroke-width="0.6"/>
<text x="107.40" y="373.30" font-size="2.2" text-anchor="middle" font-weight="bold" fill="#555"  stroke="#555" stroke-width="0.300">3000</text>
<line x1="131.90" y1="370.40" x2="131.90" y2="371.60" stroke="#444" stroke-width="0.6"/>
<text x="131.90" y="373.30" font-size="2.2" text-anchor="middle" font-weight="bold" fill="#555"  stroke="#555" stroke-width="0.300">4000</text>
<text x="82.60" y="375.40" font-size="2.3" text-anchor="middle" font-weight="bold" fill="#555"  stroke="#555" stroke-width="0.300">Time</text>
<text x="18.60" y="341.30" font-size="2.5" text-anchor="middle" font-weight="bold" fill="#555" textLength="22" lengthAdjust="spacingAndGlyphs" transform="rotate(-90 18.60 341.30)"  stroke="#555" stroke-width="0.200">Survival probability</text>
<polyline points="34.7,314.7 43.6,317.9 53.0,320.8 63.4,321.7 66.2,323.6 68.7,326.0 81.0,326.0 81.0,328.3 86.6,328.3 86.6,330.2 95.0,330.2 95.0,334.5 108.3,334.5 108.3,339.2 133.8,339.2" fill="none" stroke="#4444c8" stroke-width="1.1" stroke-linejoin="round"/>
<polyline points="34.7,314.7 40.0,319.0 47.4,324.5 57.7,327.4 63.4,331.0 71.0,334.0 76.0,337.0 80.0,340.6 83.8,343.0 93.2,344.3 96.0,345.7 102.6,346.8 103.6,349.4 135.7,349.4" fill="none" stroke="#e04848" stroke-width="1.1" stroke-linejoin="round"/>
<g stroke="#4a4acc" stroke-width="0.5"><line x1="74.8" y1="325.1" x2="74.8" y2="326.9"/><line x1="90.8" y1="329.3" x2="90.8" y2="331.1"/><line x1="101.7" y1="333.6" x2="101.7" y2="335.4"/><line x1="114.7" y1="338.3" x2="114.7" y2="340.1"/><line x1="121.1" y1="338.3" x2="121.1" y2="340.1"/><line x1="127.4" y1="338.3" x2="127.4" y2="340.1"/></g>
<g stroke="#e04c4c" stroke-width="0.5"><line x1="110.0" y1="348.5" x2="110.0" y2="350.3"/><line x1="116.4" y1="348.5" x2="116.4" y2="350.3"/><line x1="122.9" y1="348.5" x2="122.9" y2="350.3"/><line x1="129.3" y1="348.5" x2="129.3" y2="350.3"/></g>
<text x="67.00" y="308.80" font-size="2.7" text-anchor="start" font-weight="bold" fill="#333" textLength="5" lengthAdjust="spacingAndGlyphs"  stroke="#333" stroke-width="0.100">Risk</text>
<text x="74.50" y="308.80" font-size="2.6" text-anchor="start" font-weight="bold" fill="#e04848"  stroke="#e04848" stroke-width="0.100">+</text>
<text x="77.60" y="308.80" font-size="2.7" text-anchor="start" font-weight="bold" fill="#333" textLength="5" lengthAdjust="spacingAndGlyphs"  stroke="#333" stroke-width="0.100">High</text>
<text x="85.60" y="308.80" font-size="2.6" text-anchor="start" font-weight="bold" fill="#4646cc"  stroke="#4646cc" stroke-width="0.100">+</text>
<text x="87.70" y="308.80" font-size="2.7" text-anchor="start" font-weight="bold" fill="#333" textLength="5" lengthAdjust="spacingAndGlyphs"  stroke="#333" stroke-width="0.100">Low</text>
<text x="36.00" y="353.00" font-size="2.6" text-anchor="start" font-weight="bold" fill="#333" textLength="10.6" lengthAdjust="spacingAndGlyphs"  stroke="#333" stroke-width="0.150">Log rank</text>
<text x="36.00" y="357.50" font-size="2.6" text-anchor="start" font-weight="bold" fill="#333" textLength="12.6" lengthAdjust="spacingAndGlyphs"  stroke="#333" stroke-width="0.150">p &lt; 0.0001</text>
<text x="29.20" y="379.80" font-size="2.7" text-anchor="start" font-weight="bold" fill="#444" textLength="19" lengthAdjust="spacingAndGlyphs"  stroke="#444" stroke-width="0.050">Number at risk</text>
<line x1="29.20" y1="381.50" x2="29.20" y2="394.50" stroke="#444" stroke-width="0.7"/>
<line x1="29.20" y1="394.50" x2="136.00" y2="394.50" stroke="#444" stroke-width="0.8"/>
<text x="28.40" y="385.40" font-size="2.6" text-anchor="end" font-weight="bold" fill="#e05050" textLength="9.8" lengthAdjust="spacingAndGlyphs"  stroke="#e05050" stroke-width="0.100">Risk=High</text>
<text x="28.40" y="391.40" font-size="2.6" text-anchor="end" font-weight="bold" fill="#5050d0" textLength="9.2" lengthAdjust="spacingAndGlyphs"  stroke="#5050d0" stroke-width="0.100">Risk=Low</text>
<text x="18.80" y="388.00" font-size="2.4" text-anchor="middle" font-weight="bold" fill="#666" transform="rotate(-90 18.80 388.00)"  stroke="#666" stroke-width="0.050">Risk</text>
<line x1="33.90" y1="394.50" x2="33.90" y2="395.70" stroke="#444" stroke-width="0.6"/>
<text x="33.90" y="397.60" font-size="2.2" text-anchor="middle" font-weight="bold" fill="#555"  stroke="#555" stroke-width="0.300">0</text>
<text x="34.40" y="385.50" font-size="2.4" text-anchor="middle" font-weight="bold" fill="#444"  stroke="#444" stroke-width="0.150">163</text>
<text x="34.40" y="391.20" font-size="2.4" text-anchor="middle" font-weight="bold" fill="#444"  stroke="#444" stroke-width="0.150">163</text>
<line x1="58.40" y1="394.50" x2="58.40" y2="395.70" stroke="#444" stroke-width="0.6"/>
<text x="58.40" y="397.60" font-size="2.2" text-anchor="middle" font-weight="bold" fill="#555"  stroke="#555" stroke-width="0.300">1000</text>
<text x="58.90" y="385.50" font-size="2.4" text-anchor="middle" font-weight="bold" fill="#444"  stroke="#444" stroke-width="0.150">98</text>
<text x="58.90" y="391.20" font-size="2.4" text-anchor="middle" font-weight="bold" fill="#444"  stroke="#444" stroke-width="0.150">137</text>
<line x1="82.90" y1="394.50" x2="82.90" y2="395.70" stroke="#444" stroke-width="0.6"/>
<text x="82.90" y="397.60" font-size="2.2" text-anchor="middle" font-weight="bold" fill="#555"  stroke="#555" stroke-width="0.300">2000</text>
<text x="83.40" y="385.50" font-size="2.4" text-anchor="middle" font-weight="bold" fill="#444"  stroke="#444" stroke-width="0.150">58</text>
<text x="83.40" y="391.20" font-size="2.4" text-anchor="middle" font-weight="bold" fill="#444"  stroke="#444" stroke-width="0.150">76</text>
<line x1="107.40" y1="394.50" x2="107.40" y2="395.70" stroke="#444" stroke-width="0.6"/>
<text x="107.40" y="397.60" font-size="2.2" text-anchor="middle" font-weight="bold" fill="#555"  stroke="#555" stroke-width="0.300">3000</text>
<text x="107.90" y="385.50" font-size="2.4" text-anchor="middle" font-weight="bold" fill="#444"  stroke="#444" stroke-width="0.150">8</text>
<text x="107.90" y="391.20" font-size="2.4" text-anchor="middle" font-weight="bold" fill="#444"  stroke="#444" stroke-width="0.150">7</text>
<line x1="131.90" y1="394.50" x2="131.90" y2="395.70" stroke="#444" stroke-width="0.6"/>
<text x="131.90" y="397.60" font-size="2.2" text-anchor="middle" font-weight="bold" fill="#555"  stroke="#555" stroke-width="0.300">4000</text>
<text x="132.40" y="385.50" font-size="2.4" text-anchor="middle" font-weight="bold" fill="#444"  stroke="#444" stroke-width="0.150">0</text>
<text x="132.40" y="391.20" font-size="2.4" text-anchor="middle" font-weight="bold" fill="#444"  stroke="#444" stroke-width="0.150">1</text>
<text x="82.60" y="399.80" font-size="2.3" text-anchor="middle" font-weight="bold" fill="#555"  stroke="#555" stroke-width="0.300">Time</text>
<text x="158.20" y="318.00" font-size="8.2" text-anchor="start" font-weight="bold" fill="#111"  stroke="#111" stroke-width="0.400">H</text>
<line x1="185.10" y1="314.20" x2="185.10" y2="369.40" stroke="#444" stroke-width="0.7"/>
<line x1="183.50" y1="315.00" x2="185.10" y2="315.00" stroke="#444" stroke-width="0.6"/>
<text x="183.70" y="315.85" font-size="2.4" text-anchor="end" font-weight="bold" fill="#444" textLength="3.8" lengthAdjust="spacingAndGlyphs"  stroke="#444" stroke-width="0.150">1.00</text>
<line x1="183.50" y1="328.12" x2="185.10" y2="328.12" stroke="#444" stroke-width="0.6"/>
<text x="183.70" y="328.98" font-size="2.4" text-anchor="end" font-weight="bold" fill="#444" textLength="3.8" lengthAdjust="spacingAndGlyphs"  stroke="#444" stroke-width="0.150">0.75</text>
<line x1="183.50" y1="341.25" x2="185.10" y2="341.25" stroke="#444" stroke-width="0.6"/>
<text x="183.70" y="342.10" font-size="2.4" text-anchor="end" font-weight="bold" fill="#444" textLength="3.8" lengthAdjust="spacingAndGlyphs"  stroke="#444" stroke-width="0.150">0.50</text>
<line x1="183.50" y1="354.38" x2="185.10" y2="354.38" stroke="#444" stroke-width="0.6"/>
<text x="183.70" y="355.23" font-size="2.4" text-anchor="end" font-weight="bold" fill="#444" textLength="3.8" lengthAdjust="spacingAndGlyphs"  stroke="#444" stroke-width="0.150">0.25</text>
<line x1="183.50" y1="367.50" x2="185.10" y2="367.50" stroke="#444" stroke-width="0.6"/>
<text x="183.70" y="368.35" font-size="2.4" text-anchor="end" font-weight="bold" fill="#444" textLength="3.8" lengthAdjust="spacingAndGlyphs"  stroke="#444" stroke-width="0.150">0.00</text>
<line x1="185.10" y1="369.40" x2="291.00" y2="369.40" stroke="#444" stroke-width="0.8"/>
<line x1="188.60" y1="369.40" x2="188.60" y2="370.60" stroke="#444" stroke-width="0.6"/>
<text x="188.60" y="372.30" font-size="2.2" text-anchor="middle" font-weight="bold" fill="#555"  stroke="#555" stroke-width="0.300">0</text>
<line x1="213.10" y1="369.40" x2="213.10" y2="370.60" stroke="#444" stroke-width="0.6"/>
<text x="213.10" y="372.30" font-size="2.2" text-anchor="middle" font-weight="bold" fill="#555"  stroke="#555" stroke-width="0.300">1000</text>
<line x1="237.80" y1="369.40" x2="237.80" y2="370.60" stroke="#444" stroke-width="0.6"/>
<text x="237.80" y="372.30" font-size="2.2" text-anchor="middle" font-weight="bold" fill="#555"  stroke="#555" stroke-width="0.300">2000</text>
<line x1="262.50" y1="369.40" x2="262.50" y2="370.60" stroke="#444" stroke-width="0.6"/>
<text x="262.50" y="372.30" font-size="2.2" text-anchor="middle" font-weight="bold" fill="#555"  stroke="#555" stroke-width="0.300">3000</text>
<line x1="287.20" y1="369.40" x2="287.20" y2="370.60" stroke="#444" stroke-width="0.6"/>
<text x="287.20" y="372.30" font-size="2.2" text-anchor="middle" font-weight="bold" fill="#555"  stroke="#555" stroke-width="0.300">4000</text>
<text x="238.05" y="374.40" font-size="2.3" text-anchor="middle" font-weight="bold" fill="#555"  stroke="#555" stroke-width="0.300">Time</text>
<text x="174.50" y="341.30" font-size="2.5" text-anchor="middle" font-weight="bold" fill="#555" textLength="22" lengthAdjust="spacingAndGlyphs" transform="rotate(-90 174.50 341.30)"  stroke="#555" stroke-width="0.200">Survival probability</text>
<polyline points="190.1,314.7 199.5,314.4 206.1,318.9 212.7,323.2 218.4,324.2 226.0,326.4 229.7,328.3 235.0,328.7 253.5,329.0 253.5,331.1 259.2,331.1 259.2,335.8 278.4,335.8 278.4,346.2 287.8,346.2" fill="none" stroke="#4444c8" stroke-width="1.1" stroke-linejoin="round"/>
<polyline points="190.1,314.7 199.5,318.9 207.0,325.5 214.6,330.2 224.0,334.0 235.0,339.6 237.8,339.6 240.3,342.5 242.5,345.3 243.5,346.8 253.9,346.8" fill="none" stroke="#e04848" stroke-width="1.1" stroke-linejoin="round"/>
<g stroke="#4a4acc" stroke-width="0.5"><line x1="265.6" y1="334.9" x2="265.6" y2="336.7"/><line x1="272.0" y1="334.9" x2="272.0" y2="336.7"/><line x1="283.1" y1="345.3" x2="283.1" y2="347.1"/></g>
<g stroke="#e04c4c" stroke-width="0.5"><line x1="248.7" y1="345.9" x2="248.7" y2="347.7"/></g>
<text x="222.50" y="308.80" font-size="2.7" text-anchor="start" font-weight="bold" fill="#333" textLength="5" lengthAdjust="spacingAndGlyphs"  stroke="#333" stroke-width="0.100">Risk</text>
<text x="230.00" y="308.80" font-size="2.6" text-anchor="start" font-weight="bold" fill="#e04848"  stroke="#e04848" stroke-width="0.100">+</text>
<text x="233.10" y="308.80" font-size="2.7" text-anchor="start" font-weight="bold" fill="#333" textLength="5" lengthAdjust="spacingAndGlyphs"  stroke="#333" stroke-width="0.100">High</text>
<text x="241.10" y="308.80" font-size="2.6" text-anchor="start" font-weight="bold" fill="#4646cc"  stroke="#4646cc" stroke-width="0.100">+</text>
<text x="243.20" y="308.80" font-size="2.7" text-anchor="start" font-weight="bold" fill="#333" textLength="5" lengthAdjust="spacingAndGlyphs"  stroke="#333" stroke-width="0.100">Low</text>
<text x="190.50" y="353.00" font-size="2.6" text-anchor="start" font-weight="bold" fill="#333" textLength="10.6" lengthAdjust="spacingAndGlyphs"  stroke="#333" stroke-width="0.150">Log rank</text>
<text x="190.50" y="357.50" font-size="2.6" text-anchor="start" font-weight="bold" fill="#333" textLength="12.6" lengthAdjust="spacingAndGlyphs"  stroke="#333" stroke-width="0.150">p &lt; 0.0001</text>
<text x="185.10" y="379.80" font-size="2.7" text-anchor="start" font-weight="bold" fill="#444" textLength="19" lengthAdjust="spacingAndGlyphs"  stroke="#444" stroke-width="0.050">Number at risk</text>
<line x1="185.10" y1="381.50" x2="185.10" y2="394.50" stroke="#444" stroke-width="0.7"/>
<line x1="185.10" y1="394.50" x2="291.00" y2="394.50" stroke="#444" stroke-width="0.8"/>
<text x="184.30" y="385.40" font-size="2.6" text-anchor="end" font-weight="bold" fill="#e05050" textLength="9.8" lengthAdjust="spacingAndGlyphs"  stroke="#e05050" stroke-width="0.100">Risk=High</text>
<text x="184.30" y="391.40" font-size="2.6" text-anchor="end" font-weight="bold" fill="#5050d0" textLength="9.2" lengthAdjust="spacingAndGlyphs"  stroke="#5050d0" stroke-width="0.100">Risk=Low</text>
<text x="174.70" y="388.00" font-size="2.4" text-anchor="middle" font-weight="bold" fill="#666" transform="rotate(-90 174.70 388.00)"  stroke="#666" stroke-width="0.050">Risk</text>
<line x1="188.60" y1="394.50" x2="188.60" y2="395.70" stroke="#444" stroke-width="0.6"/>
<text x="188.60" y="397.60" font-size="2.2" text-anchor="middle" font-weight="bold" fill="#555"  stroke="#555" stroke-width="0.300">0</text>
<text x="189.10" y="385.50" font-size="2.4" text-anchor="middle" font-weight="bold" fill="#444"  stroke="#444" stroke-width="0.150">315</text>
<text x="189.10" y="391.20" font-size="2.4" text-anchor="middle" font-weight="bold" fill="#444"  stroke="#444" stroke-width="0.150">287</text>
<line x1="213.10" y1="394.50" x2="213.10" y2="395.70" stroke="#444" stroke-width="0.6"/>
<text x="213.10" y="397.60" font-size="2.2" text-anchor="middle" font-weight="bold" fill="#555"  stroke="#555" stroke-width="0.300">1000</text>
<text x="213.60" y="385.50" font-size="2.4" text-anchor="middle" font-weight="bold" fill="#444"  stroke="#444" stroke-width="0.150">188</text>
<text x="213.60" y="391.20" font-size="2.4" text-anchor="middle" font-weight="bold" fill="#444"  stroke="#444" stroke-width="0.150">174</text>
<line x1="237.80" y1="394.50" x2="237.80" y2="395.70" stroke="#444" stroke-width="0.6"/>
<text x="237.80" y="397.60" font-size="2.2" text-anchor="middle" font-weight="bold" fill="#555"  stroke="#555" stroke-width="0.300">2000</text>
<text x="238.30" y="385.50" font-size="2.4" text-anchor="middle" font-weight="bold" fill="#444"  stroke="#444" stroke-width="0.150">56</text>
<text x="238.30" y="391.20" font-size="2.4" text-anchor="middle" font-weight="bold" fill="#444"  stroke="#444" stroke-width="0.150">65</text>
<line x1="262.50" y1="394.50" x2="262.50" y2="395.70" stroke="#444" stroke-width="0.6"/>
<text x="262.50" y="397.60" font-size="2.2" text-anchor="middle" font-weight="bold" fill="#555"  stroke="#555" stroke-width="0.300">3000</text>
<text x="263.00" y="385.50" font-size="2.4" text-anchor="middle" font-weight="bold" fill="#444"  stroke="#444" stroke-width="0.150">8</text>
<text x="263.00" y="391.20" font-size="2.4" text-anchor="middle" font-weight="bold" fill="#444"  stroke="#444" stroke-width="0.150">6</text>
<line x1="287.20" y1="394.50" x2="287.20" y2="395.70" stroke="#444" stroke-width="0.6"/>
<text x="287.20" y="397.60" font-size="2.2" text-anchor="middle" font-weight="bold" fill="#555"  stroke="#555" stroke-width="0.300">4000</text>
<text x="287.70" y="385.50" font-size="2.4" text-anchor="middle" font-weight="bold" fill="#444"  stroke="#444" stroke-width="0.150">0</text>
<text x="287.70" y="391.20" font-size="2.4" text-anchor="middle" font-weight="bold" fill="#444"  stroke="#444" stroke-width="0.150">1</text>
<text x="238.05" y="399.80" font-size="2.3" text-anchor="middle" font-weight="bold" fill="#555"  stroke="#555" stroke-width="0.300">Time</text>
</svg></body></html>
